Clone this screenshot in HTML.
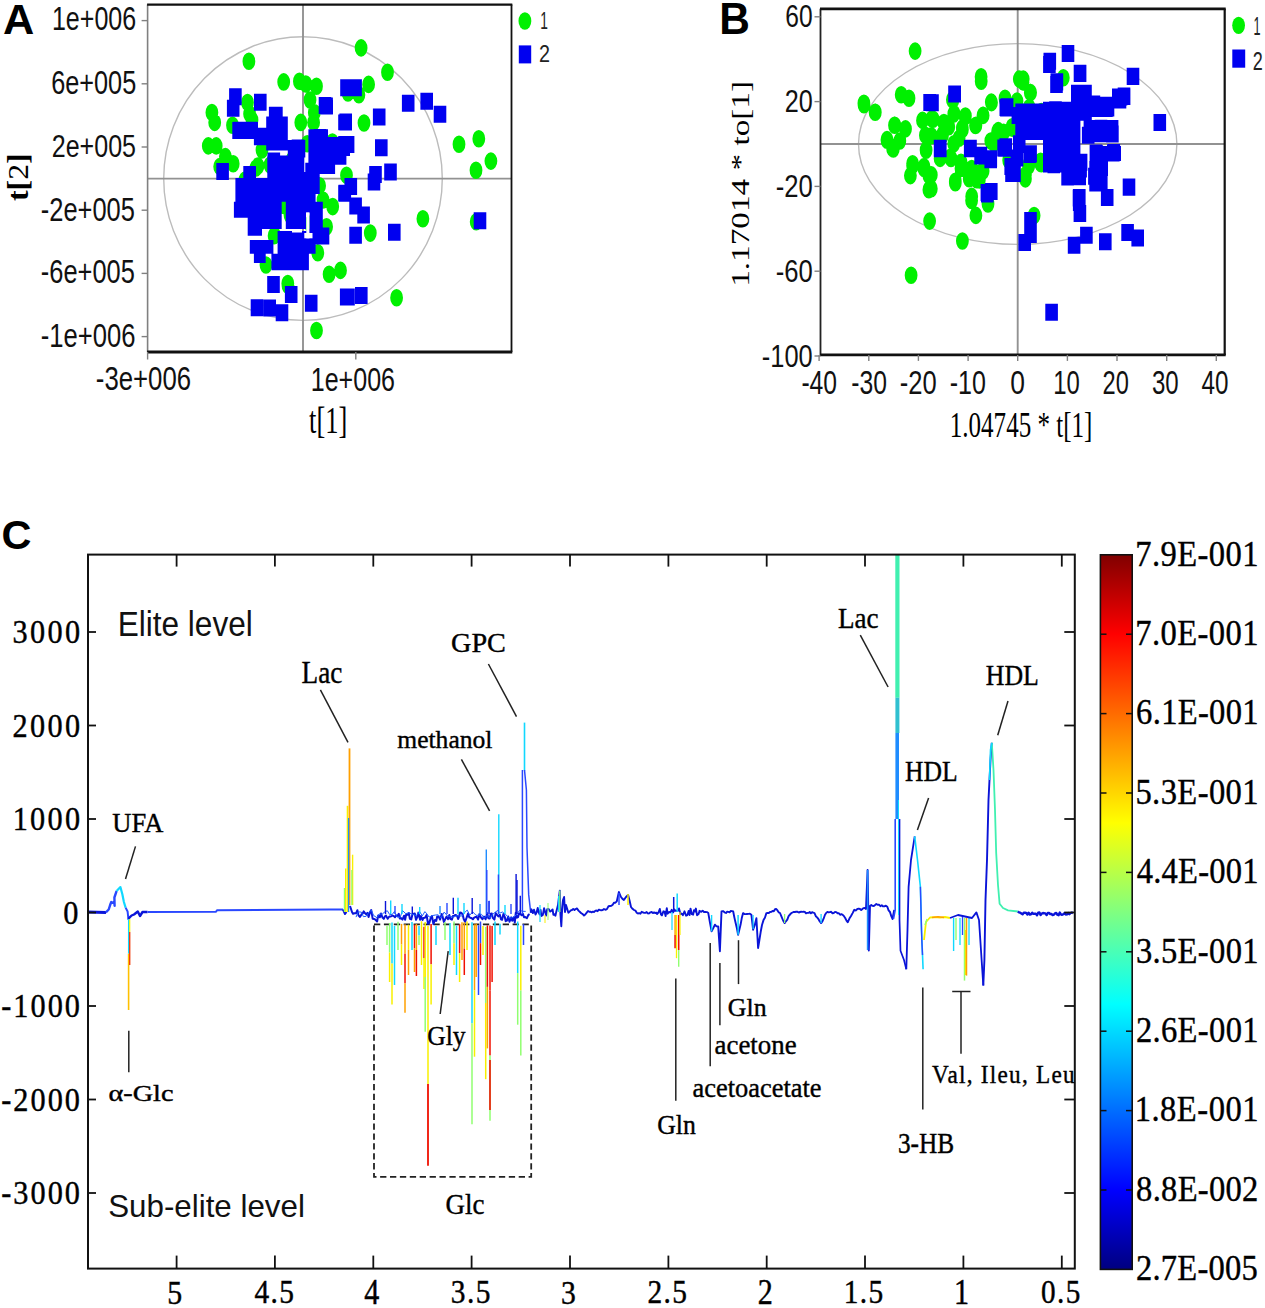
<!DOCTYPE html>
<html><head><meta charset="utf-8"><title>Figure</title>
<style>
html,body{margin:0;padding:0;background:#fff;}
body{width:1265px;height:1308px;overflow:hidden;font-family:"Liberation Sans",sans-serif;}
svg{display:block;}
</style></head>
<body>
<svg width="1265" height="1308" viewBox="0 0 1265 1308">
<rect width="1265" height="1308" fill="#fff"/>
<ellipse cx="303.0" cy="178.6" rx="139.3" ry="141.8" fill="none" stroke="#bcbcbc" stroke-width="1.4"/>
<line x1="147.6" y1="178.6" x2="511.5" y2="178.6" stroke="#929292" stroke-width="1.9"/>
<line x1="303.0" y1="4.6" x2="303.0" y2="352.0" stroke="#929292" stroke-width="1.9"/>
<path fill="#00f000" fill-rule="nonzero" d="M242.5,61.3a6.4,8.8 0 1,0 12.8,0a6.4,8.8 0 1,0 -12.8,0zM277.3,81.9a6.4,8.8 0 1,0 12.8,0a6.4,8.8 0 1,0 -12.8,0zM293.0,81.2a6.4,8.8 0 1,0 12.8,0a6.4,8.8 0 1,0 -12.8,0zM299.4,84.0a6.4,8.8 0 1,0 12.8,0a6.4,8.8 0 1,0 -12.8,0zM310.1,86.2a6.4,8.8 0 1,0 12.8,0a6.4,8.8 0 1,0 -12.8,0zM205.5,112.5a6.4,8.8 0 1,0 12.8,0a6.4,8.8 0 1,0 -12.8,0zM208.3,122.4a6.4,8.8 0 1,0 12.8,0a6.4,8.8 0 1,0 -12.8,0zM241.1,102.5a6.4,8.8 0 1,0 12.8,0a6.4,8.8 0 1,0 -12.8,0zM243.2,113.9a6.4,8.8 0 1,0 12.8,0a6.4,8.8 0 1,0 -12.8,0zM226.1,125.3a6.4,8.8 0 1,0 12.8,0a6.4,8.8 0 1,0 -12.8,0zM294.4,122.4a6.4,8.8 0 1,0 12.8,0a6.4,8.8 0 1,0 -12.8,0zM307.9,112.5a6.4,8.8 0 1,0 12.8,0a6.4,8.8 0 1,0 -12.8,0zM307.2,122.4a6.4,8.8 0 1,0 12.8,0a6.4,8.8 0 1,0 -12.8,0zM201.9,145.9a6.4,8.8 0 1,0 12.8,0a6.4,8.8 0 1,0 -12.8,0zM209.8,145.9a6.4,8.8 0 1,0 12.8,0a6.4,8.8 0 1,0 -12.8,0zM219.0,156.6a6.4,8.8 0 1,0 12.8,0a6.4,8.8 0 1,0 -12.8,0zM226.8,163.7a6.4,8.8 0 1,0 12.8,0a6.4,8.8 0 1,0 -12.8,0zM213.3,166.6a6.4,8.8 0 1,0 12.8,0a6.4,8.8 0 1,0 -12.8,0zM249.6,168.0a6.4,8.8 0 1,0 12.8,0a6.4,8.8 0 1,0 -12.8,0zM300.8,143.8a6.4,8.8 0 1,0 12.8,0a6.4,8.8 0 1,0 -12.8,0zM354.7,47.9a6.4,8.8 0 1,0 12.8,0a6.4,8.8 0 1,0 -12.8,0zM381.1,72.3a6.4,8.8 0 1,0 12.8,0a6.4,8.8 0 1,0 -12.8,0zM362.2,84.4a6.4,8.8 0 1,0 12.8,0a6.4,8.8 0 1,0 -12.8,0zM352.5,94.7a6.4,8.8 0 1,0 12.8,0a6.4,8.8 0 1,0 -12.8,0zM341.6,93.0a6.4,8.8 0 1,0 12.8,0a6.4,8.8 0 1,0 -12.8,0zM357.6,123.0a6.4,8.8 0 1,0 12.8,0a6.4,8.8 0 1,0 -12.8,0zM326.0,142.0a6.4,8.8 0 1,0 12.8,0a6.4,8.8 0 1,0 -12.8,0zM452.6,144.2a6.4,8.8 0 1,0 12.8,0a6.4,8.8 0 1,0 -12.8,0zM472.4,138.7a6.4,8.8 0 1,0 12.8,0a6.4,8.8 0 1,0 -12.8,0zM484.5,161.1a6.4,8.8 0 1,0 12.8,0a6.4,8.8 0 1,0 -12.8,0zM469.6,170.2a6.4,8.8 0 1,0 12.8,0a6.4,8.8 0 1,0 -12.8,0zM340.1,175.2a6.4,8.8 0 1,0 12.8,0a6.4,8.8 0 1,0 -12.8,0zM313.2,185.7a6.4,8.8 0 1,0 12.8,0a6.4,8.8 0 1,0 -12.8,0zM326.3,206.6a6.4,8.8 0 1,0 12.8,0a6.4,8.8 0 1,0 -12.8,0zM320.2,226.8a6.4,8.8 0 1,0 12.8,0a6.4,8.8 0 1,0 -12.8,0zM311.4,252.7a6.4,8.8 0 1,0 12.8,0a6.4,8.8 0 1,0 -12.8,0zM267.7,235.7a6.4,8.8 0 1,0 12.8,0a6.4,8.8 0 1,0 -12.8,0zM281.6,285.6a6.4,8.8 0 1,0 12.8,0a6.4,8.8 0 1,0 -12.8,0zM310.1,330.5a6.4,8.8 0 1,0 12.8,0a6.4,8.8 0 1,0 -12.8,0zM322.7,274.2a6.4,8.8 0 1,0 12.8,0a6.4,8.8 0 1,0 -12.8,0zM334.1,270.4a6.4,8.8 0 1,0 12.8,0a6.4,8.8 0 1,0 -12.8,0zM363.9,233.1a6.4,8.8 0 1,0 12.8,0a6.4,8.8 0 1,0 -12.8,0zM416.5,218.8a6.4,8.8 0 1,0 12.8,0a6.4,8.8 0 1,0 -12.8,0zM469.8,221.8a6.4,8.8 0 1,0 12.8,0a6.4,8.8 0 1,0 -12.8,0zM390.2,297.7a6.4,8.8 0 1,0 12.8,0a6.4,8.8 0 1,0 -12.8,0zM245.6,120.0a6.4,8.8 0 1,0 12.8,0a6.4,8.8 0 1,0 -12.8,0zM255.6,150.0a6.4,8.8 0 1,0 12.8,0a6.4,8.8 0 1,0 -12.8,0zM263.6,165.0a6.4,8.8 0 1,0 12.8,0a6.4,8.8 0 1,0 -12.8,0zM285.6,160.0a6.4,8.8 0 1,0 12.8,0a6.4,8.8 0 1,0 -12.8,0zM315.6,160.0a6.4,8.8 0 1,0 12.8,0a6.4,8.8 0 1,0 -12.8,0zM303.6,100.0a6.4,8.8 0 1,0 12.8,0a6.4,8.8 0 1,0 -12.8,0zM238.6,180.0a6.4,8.8 0 1,0 12.8,0a6.4,8.8 0 1,0 -12.8,0zM274.6,203.0a6.4,8.8 0 1,0 12.8,0a6.4,8.8 0 1,0 -12.8,0zM293.6,240.0a6.4,8.8 0 1,0 12.8,0a6.4,8.8 0 1,0 -12.8,0zM283.6,215.0a6.4,8.8 0 1,0 12.8,0a6.4,8.8 0 1,0 -12.8,0zM316.6,200.0a6.4,8.8 0 1,0 12.8,0a6.4,8.8 0 1,0 -12.8,0zM259.6,265.0a6.4,8.8 0 1,0 12.8,0a6.4,8.8 0 1,0 -12.8,0zM268.1,235.2a6.4,8.8 0 1,0 12.8,0a6.4,8.8 0 1,0 -12.8,0zM277.3,205.4a6.4,8.8 0 1,0 12.8,0a6.4,8.8 0 1,0 -12.8,0zM304.0,224.0a6.4,8.8 0 1,0 12.8,0a6.4,8.8 0 1,0 -12.8,0zM281.4,283.5a6.4,8.8 0 1,0 12.8,0a6.4,8.8 0 1,0 -12.8,0zM251.6,166.0a6.4,8.8 0 1,0 12.8,0a6.4,8.8 0 1,0 -12.8,0z"/>
<path fill="#0000f0" fill-rule="nonzero" d="M229.1,88.3h12.6v17.0h-12.6zM226.9,99.7h12.6v17.0h-12.6zM254.0,93.7h12.6v17.0h-12.6zM233.3,121.8h12.6v17.0h-12.6zM244.7,121.8h12.6v17.0h-12.6zM268.9,106.8h12.6v17.0h-12.6zM274.6,117.5h12.6v17.0h-12.6zM254.7,128.2h12.6v17.0h-12.6zM268.9,132.5h12.6v17.0h-12.6zM318.7,96.9h12.6v17.0h-12.6zM313.7,128.9h12.6v17.0h-12.6zM291.7,139.5h12.6v17.0h-12.6zM308.7,145.2h12.6v17.0h-12.6zM216.3,163.0h12.6v17.0h-12.6zM243.3,165.9h12.6v17.0h-12.6zM267.5,152.4h12.6v17.0h-12.6zM340.2,79.2h12.6v17.0h-12.6zM349.3,79.2h12.6v17.0h-12.6zM320.3,97.5h12.6v17.0h-12.6zM339.4,113.5h12.6v17.0h-12.6zM372.9,108.6h12.6v17.0h-12.6zM401.9,94.8h12.6v17.0h-12.6zM420.4,92.8h12.6v17.0h-12.6zM433.7,105.8h12.6v17.0h-12.6zM375.0,139.3h12.6v17.0h-12.6zM341.8,136.0h12.6v17.0h-12.6zM313.7,130.2h12.6v17.0h-12.6zM384.2,163.4h12.6v17.0h-12.6zM369.2,165.9h12.6v17.0h-12.6zM267.2,275.9h12.6v17.0h-12.6zM284.9,286.0h12.6v17.0h-12.6zM304.9,294.8h12.6v17.0h-12.6zM339.9,288.5h12.6v17.0h-12.6zM250.7,299.3h12.6v17.0h-12.6zM263.4,299.5h12.6v17.0h-12.6zM275.7,304.3h12.6v17.0h-12.6zM473.7,212.3h12.6v17.0h-12.6zM388.0,223.8h12.6v17.0h-12.6zM349.3,226.8h12.6v17.0h-12.6zM357.3,206.5h12.6v17.0h-12.6zM349.3,197.5h12.6v17.0h-12.6zM338.5,184.8h12.6v17.0h-12.6zM344.5,178.0h12.6v17.0h-12.6zM367.7,173.5h12.6v17.0h-12.6zM342.2,288.4h12.6v17.0h-12.6zM355.0,286.9h12.6v17.0h-12.6zM316.7,227.5h12.6v17.0h-12.6zM232.3,122.1H258.0V139.0H232.3zM253.9,127.7H287.8V145.2H253.9zM266.2,116.4H287.8V150.4H266.2zM269.3,106.7H282.7V118.0H269.3zM267.3,155.5H304.3V200.0H267.3zM287.8,140.0H305.3V157.6H287.8zM308.4,129.3H328.0V162.7H308.4zM328.0,137.0H346.4V164.7H328.0zM305.3,162.7H335.1V174.0H305.3zM235.4,178.0H319.7V194.0H235.4zM243.6,167.3H256.0V178.0H243.6zM304.3,172.0H319.7V182.0H304.3zM235.4,190.0H315.6V201.8H235.4zM233.9,201.8H281.7V217.7H233.9zM247.7,217.7H262.0V235.7H247.7zM262.0,217.7H281.7V229.0H262.0zM285.8,201.8H322.8V212.6H285.8zM285.8,212.6H306.0V229.0H285.8zM309.4,212.6H322.8V229.0H309.4zM308.4,229.0H326.9V244.5H308.4zM277.6,231.0H315.6V253.7H277.6zM249.8,240.0H273.4V253.7H249.8zM253.9,253.7H265.7V263.0H253.9zM271.4,253.7H308.9V270.2H271.4zM338.2,114.4H350.0V130.3H338.2zM338.2,136.0H350.0V156.0H338.2zM320.2,100.0H333.0V113.9H320.2zM338.2,185.3H350.0V201.3H338.2z"/>
<rect x="292" y="229" width="10.0" height="3.5" fill="#fff"/>
<rect x="304.3" y="233" width="8.2" height="5.3" fill="#fff"/>
<rect x="306.3" y="212.6" width="3.1" height="25.7" fill="#fff"/>
<line x1="147.6" y1="4.6" x2="147.6" y2="352.0" stroke="#808080" stroke-width="1.6"/>
<line x1="147.1" y1="4.6" x2="512.3" y2="4.6" stroke="#111" stroke-width="2.4"/>
<line x1="511.5" y1="4.6" x2="511.5" y2="352.0" stroke="#111" stroke-width="1.8"/>
<line x1="147.1" y1="352.0" x2="512.3" y2="352.0" stroke="#111" stroke-width="2.8"/>
<line x1="141.6" y1="20.6" x2="147.6" y2="20.6" stroke="#808080" stroke-width="1.4"/>
<text x="51.92" y="30.47" font-family='"Liberation Sans", sans-serif' font-size="33.38" font-weight="normal" fill="#111" textLength="84.28" lengthAdjust="spacingAndGlyphs">1e+006</text>
<line x1="141.6" y1="83.8" x2="147.6" y2="83.8" stroke="#808080" stroke-width="1.4"/>
<text x="51.14" y="93.78" font-family='"Liberation Sans", sans-serif' font-size="32.39" font-weight="normal" fill="#111" textLength="85.07" lengthAdjust="spacingAndGlyphs">6e+005</text>
<line x1="141.6" y1="147.0" x2="147.6" y2="147.0" stroke="#808080" stroke-width="1.4"/>
<text x="51.75" y="157.38" font-family='"Liberation Sans", sans-serif' font-size="32.25" font-weight="normal" fill="#111" textLength="84.25" lengthAdjust="spacingAndGlyphs">2e+005</text>
<line x1="141.6" y1="210.2" x2="147.6" y2="210.2" stroke="#808080" stroke-width="1.4"/>
<text x="40.75" y="221.37" font-family='"Liberation Sans", sans-serif' font-size="33.38" font-weight="normal" fill="#111" textLength="94.14" lengthAdjust="spacingAndGlyphs">-2e+005</text>
<line x1="141.6" y1="273.4" x2="147.6" y2="273.4" stroke="#808080" stroke-width="1.4"/>
<text x="40.86" y="282.67" font-family='"Liberation Sans", sans-serif' font-size="32.68" font-weight="normal" fill="#111" textLength="94.04" lengthAdjust="spacingAndGlyphs">-6e+005</text>
<line x1="141.6" y1="336.6" x2="147.6" y2="336.6" stroke="#808080" stroke-width="1.4"/>
<text x="40.75" y="346.96" font-family='"Liberation Sans", sans-serif' font-size="33.52" font-weight="normal" fill="#111" textLength="94.75" lengthAdjust="spacingAndGlyphs">-1e+006</text>
<line x1="147.6" y1="352.0" x2="147.6" y2="359.5" stroke="#808080" stroke-width="1.4"/>
<line x1="355.8" y1="352.0" x2="355.8" y2="359.5" stroke="#808080" stroke-width="1.4"/>
<text x="95.84" y="390.48" font-family='"Liberation Sans", sans-serif' font-size="32.39" font-weight="normal" fill="#111" textLength="95.26" lengthAdjust="spacingAndGlyphs">-3e+006</text>
<text x="310.72" y="390.66" font-family='"Liberation Sans", sans-serif' font-size="33.80" font-weight="normal" fill="#111" textLength="84.28" lengthAdjust="spacingAndGlyphs">1e+006</text>
<text x="309.04" y="432.96" font-family='"Liberation Serif", serif' font-size="37.35" font-weight="normal" fill="#000" textLength="38.22" lengthAdjust="spacingAndGlyphs">t[1]</text>
<g transform="translate(28.38,200.93) rotate(-90)"><text x="0" y="0" font-family='"Liberation Serif", serif' font-size="29.04" font-weight="normal" textLength="47.46" lengthAdjust="spacingAndGlyphs"><tspan font-weight="bold">t[</tspan>2<tspan font-weight="bold">]</tspan></text></g>
<ellipse cx="524.9" cy="21" rx="6.4" ry="8.8" fill="#00f000"/>
<rect x="518.8" y="45.4" width="12.4" height="18" fill="#0000f0"/>
<text x="540.27" y="28.80" font-family='"Liberation Sans", sans-serif' font-size="23.33" font-weight="normal" fill="#222" textLength="7.67" lengthAdjust="spacingAndGlyphs">1</text>
<text x="539.01" y="62.00" font-family='"Liberation Sans", sans-serif' font-size="23.71" font-weight="normal" fill="#222" textLength="11.00" lengthAdjust="spacingAndGlyphs">2</text>
<text x="2.92" y="34.00" font-family='"Liberation Sans", sans-serif' font-size="42.03" font-weight="bold" fill="#000" textLength="31.26" lengthAdjust="spacingAndGlyphs">A</text>
<ellipse cx="1017.7" cy="144.0" rx="159.2" ry="100.4" fill="none" stroke="#bcbcbc" stroke-width="1.4"/>
<line x1="820.5" y1="144.0" x2="1224.7" y2="144.0" stroke="#929292" stroke-width="1.9"/>
<line x1="1017.7" y1="8.8" x2="1017.7" y2="354.9" stroke="#929292" stroke-width="1.9"/>
<path fill="#00f000" fill-rule="nonzero" d="M908.7,51.1a6.4,8.8 0 1,0 12.8,0a6.4,8.8 0 1,0 -12.8,0zM974.7,76.7a6.4,8.8 0 1,0 12.8,0a6.4,8.8 0 1,0 -12.8,0zM857.5,103.3a6.4,8.8 0 1,0 12.8,0a6.4,8.8 0 1,0 -12.8,0zM868.7,112.2a6.4,8.8 0 1,0 12.8,0a6.4,8.8 0 1,0 -12.8,0zM894.8,94.7a6.4,8.8 0 1,0 12.8,0a6.4,8.8 0 1,0 -12.8,0zM902.6,98.3a6.4,8.8 0 1,0 12.8,0a6.4,8.8 0 1,0 -12.8,0zM888.4,125.3a6.4,8.8 0 1,0 12.8,0a6.4,8.8 0 1,0 -12.8,0zM899.1,128.9a6.4,8.8 0 1,0 12.8,0a6.4,8.8 0 1,0 -12.8,0zM880.6,139.6a6.4,8.8 0 1,0 12.8,0a6.4,8.8 0 1,0 -12.8,0zM887.0,148.1a6.4,8.8 0 1,0 12.8,0a6.4,8.8 0 1,0 -12.8,0zM893.4,141.0a6.4,8.8 0 1,0 12.8,0a6.4,8.8 0 1,0 -12.8,0zM916.1,120.4a6.4,8.8 0 1,0 12.8,0a6.4,8.8 0 1,0 -12.8,0zM925.4,118.9a6.4,8.8 0 1,0 12.8,0a6.4,8.8 0 1,0 -12.8,0zM919.0,135.3a6.4,8.8 0 1,0 12.8,0a6.4,8.8 0 1,0 -12.8,0zM919.7,150.2a6.4,8.8 0 1,0 12.8,0a6.4,8.8 0 1,0 -12.8,0zM937.5,122.5a6.4,8.8 0 1,0 12.8,0a6.4,8.8 0 1,0 -12.8,0zM936.0,135.3a6.4,8.8 0 1,0 12.8,0a6.4,8.8 0 1,0 -12.8,0zM933.9,155.2a6.4,8.8 0 1,0 12.8,0a6.4,8.8 0 1,0 -12.8,0zM946.0,99.7a6.4,8.8 0 1,0 12.8,0a6.4,8.8 0 1,0 -12.8,0zM947.4,114.0a6.4,8.8 0 1,0 12.8,0a6.4,8.8 0 1,0 -12.8,0zM942.4,126.8a6.4,8.8 0 1,0 12.8,0a6.4,8.8 0 1,0 -12.8,0zM958.8,116.8a6.4,8.8 0 1,0 12.8,0a6.4,8.8 0 1,0 -12.8,0zM956.0,129.6a6.4,8.8 0 1,0 12.8,0a6.4,8.8 0 1,0 -12.8,0zM969.5,125.3a6.4,8.8 0 1,0 12.8,0a6.4,8.8 0 1,0 -12.8,0zM976.6,115.4a6.4,8.8 0 1,0 12.8,0a6.4,8.8 0 1,0 -12.8,0zM985.1,102.6a6.4,8.8 0 1,0 12.8,0a6.4,8.8 0 1,0 -12.8,0zM991.5,131.0a6.4,8.8 0 1,0 12.8,0a6.4,8.8 0 1,0 -12.8,0zM984.4,141.0a6.4,8.8 0 1,0 12.8,0a6.4,8.8 0 1,0 -12.8,0zM998.6,98.3a6.4,8.8 0 1,0 12.8,0a6.4,8.8 0 1,0 -12.8,0zM1008.6,126.8a6.4,8.8 0 1,0 12.8,0a6.4,8.8 0 1,0 -12.8,0zM1012.9,79.1a6.4,8.8 0 1,0 12.8,0a6.4,8.8 0 1,0 -12.8,0zM906.2,163.8a6.4,8.8 0 1,0 12.8,0a6.4,8.8 0 1,0 -12.8,0zM917.6,166.6a6.4,8.8 0 1,0 12.8,0a6.4,8.8 0 1,0 -12.8,0zM947.4,143.8a6.4,8.8 0 1,0 12.8,0a6.4,8.8 0 1,0 -12.8,0zM857.6,104.7a6.4,8.8 0 1,0 12.8,0a6.4,8.8 0 1,0 -12.8,0zM868.9,112.3a6.4,8.8 0 1,0 12.8,0a6.4,8.8 0 1,0 -12.8,0zM888.1,125.3a6.4,8.8 0 1,0 12.8,0a6.4,8.8 0 1,0 -12.8,0zM880.6,140.3a6.4,8.8 0 1,0 12.8,0a6.4,8.8 0 1,0 -12.8,0zM886.9,149.0a6.4,8.8 0 1,0 12.8,0a6.4,8.8 0 1,0 -12.8,0zM886.2,148.5a6.4,8.8 0 1,0 12.8,0a6.4,8.8 0 1,0 -12.8,0zM919.7,150.0a6.4,8.8 0 1,0 12.8,0a6.4,8.8 0 1,0 -12.8,0zM906.2,165.6a6.4,8.8 0 1,0 12.8,0a6.4,8.8 0 1,0 -12.8,0zM904.0,175.6a6.4,8.8 0 1,0 12.8,0a6.4,8.8 0 1,0 -12.8,0zM917.6,168.5a6.4,8.8 0 1,0 12.8,0a6.4,8.8 0 1,0 -12.8,0zM922.5,175.6a6.4,8.8 0 1,0 12.8,0a6.4,8.8 0 1,0 -12.8,0zM922.5,189.8a6.4,8.8 0 1,0 12.8,0a6.4,8.8 0 1,0 -12.8,0zM933.9,157.0a6.4,8.8 0 1,0 12.8,0a6.4,8.8 0 1,0 -12.8,0zM944.6,158.5a6.4,8.8 0 1,0 12.8,0a6.4,8.8 0 1,0 -12.8,0zM948.9,182.7a6.4,8.8 0 1,0 12.8,0a6.4,8.8 0 1,0 -12.8,0zM954.6,168.5a6.4,8.8 0 1,0 12.8,0a6.4,8.8 0 1,0 -12.8,0zM964.5,177.0a6.4,8.8 0 1,0 12.8,0a6.4,8.8 0 1,0 -12.8,0zM975.9,171.3a6.4,8.8 0 1,0 12.8,0a6.4,8.8 0 1,0 -12.8,0zM970.2,179.8a6.4,8.8 0 1,0 12.8,0a6.4,8.8 0 1,0 -12.8,0zM965.2,200.5a6.4,8.8 0 1,0 12.8,0a6.4,8.8 0 1,0 -12.8,0zM969.5,215.4a6.4,8.8 0 1,0 12.8,0a6.4,8.8 0 1,0 -12.8,0zM981.6,204.0a6.4,8.8 0 1,0 12.8,0a6.4,8.8 0 1,0 -12.8,0zM923.2,221.1a6.4,8.8 0 1,0 12.8,0a6.4,8.8 0 1,0 -12.8,0zM956.0,241.0a6.4,8.8 0 1,0 12.8,0a6.4,8.8 0 1,0 -12.8,0zM904.7,275.2a6.4,8.8 0 1,0 12.8,0a6.4,8.8 0 1,0 -12.8,0zM1016.8,79.1a6.4,8.8 0 1,0 12.8,0a6.4,8.8 0 1,0 -12.8,0zM1023.9,92.6a6.4,8.8 0 1,0 12.8,0a6.4,8.8 0 1,0 -12.8,0zM1056.9,77.7a6.4,8.8 0 1,0 12.8,0a6.4,8.8 0 1,0 -12.8,0zM999.3,101.1a6.4,8.8 0 1,0 12.8,0a6.4,8.8 0 1,0 -12.8,0zM1010.6,101.1a6.4,8.8 0 1,0 12.8,0a6.4,8.8 0 1,0 -12.8,0zM1022.8,107.5a6.4,8.8 0 1,0 12.8,0a6.4,8.8 0 1,0 -12.8,0zM1035.6,112.5a6.4,8.8 0 1,0 12.8,0a6.4,8.8 0 1,0 -12.8,0zM997.2,132.4a6.4,8.8 0 1,0 12.8,0a6.4,8.8 0 1,0 -12.8,0zM1005.7,126.8a6.4,8.8 0 1,0 12.8,0a6.4,8.8 0 1,0 -12.8,0zM1034.9,163.8a6.4,8.8 0 1,0 12.8,0a6.4,8.8 0 1,0 -12.8,0zM1022.1,165.2a6.4,8.8 0 1,0 12.8,0a6.4,8.8 0 1,0 -12.8,0zM1027.7,215.5a6.4,8.8 0 1,0 12.8,0a6.4,8.8 0 1,0 -12.8,0zM1019.0,174.9a6.4,8.8 0 1,0 12.8,0a6.4,8.8 0 1,0 -12.8,0zM1035.0,161.8a6.4,8.8 0 1,0 12.8,0a6.4,8.8 0 1,0 -12.8,0zM1002.3,160.3a6.4,8.8 0 1,0 12.8,0a6.4,8.8 0 1,0 -12.8,0zM974.8,81.3a6.4,8.8 0 1,0 12.8,0a6.4,8.8 0 1,0 -12.8,0zM1016.6,81.9a6.4,8.8 0 1,0 12.8,0a6.4,8.8 0 1,0 -12.8,0zM1024.2,92.6a6.4,8.8 0 1,0 12.8,0a6.4,8.8 0 1,0 -12.8,0zM984.9,102.1a6.4,8.8 0 1,0 12.8,0a6.4,8.8 0 1,0 -12.8,0zM946.4,100.2a6.4,8.8 0 1,0 12.8,0a6.4,8.8 0 1,0 -12.8,0zM926.8,119.2a6.4,8.8 0 1,0 12.8,0a6.4,8.8 0 1,0 -12.8,0zM947.6,113.5a6.4,8.8 0 1,0 12.8,0a6.4,8.8 0 1,0 -12.8,0zM959.0,116.0a6.4,8.8 0 1,0 12.8,0a6.4,8.8 0 1,0 -12.8,0zM976.7,115.4a6.4,8.8 0 1,0 12.8,0a6.4,8.8 0 1,0 -12.8,0zM937.5,123.0a6.4,8.8 0 1,0 12.8,0a6.4,8.8 0 1,0 -12.8,0zM955.9,128.1a6.4,8.8 0 1,0 12.8,0a6.4,8.8 0 1,0 -12.8,0zM969.1,125.5a6.4,8.8 0 1,0 12.8,0a6.4,8.8 0 1,0 -12.8,0zM991.9,130.6a6.4,8.8 0 1,0 12.8,0a6.4,8.8 0 1,0 -12.8,0zM1005.8,128.1a6.4,8.8 0 1,0 12.8,0a6.4,8.8 0 1,0 -12.8,0zM924.9,135.7a6.4,8.8 0 1,0 12.8,0a6.4,8.8 0 1,0 -12.8,0zM936.2,134.4a6.4,8.8 0 1,0 12.8,0a6.4,8.8 0 1,0 -12.8,0zM952.7,138.2a6.4,8.8 0 1,0 12.8,0a6.4,8.8 0 1,0 -12.8,0zM986.8,142.0a6.4,8.8 0 1,0 12.8,0a6.4,8.8 0 1,0 -12.8,0zM933.7,158.4a6.4,8.8 0 1,0 12.8,0a6.4,8.8 0 1,0 -12.8,0zM943.8,157.2a6.4,8.8 0 1,0 12.8,0a6.4,8.8 0 1,0 -12.8,0zM954.6,162.2a6.4,8.8 0 1,0 12.8,0a6.4,8.8 0 1,0 -12.8,0zM965.3,168.5a6.4,8.8 0 1,0 12.8,0a6.4,8.8 0 1,0 -12.8,0zM976.7,171.1a6.4,8.8 0 1,0 12.8,0a6.4,8.8 0 1,0 -12.8,0zM948.9,181.2a6.4,8.8 0 1,0 12.8,0a6.4,8.8 0 1,0 -12.8,0zM962.8,178.7a6.4,8.8 0 1,0 12.8,0a6.4,8.8 0 1,0 -12.8,0zM972.9,179.9a6.4,8.8 0 1,0 12.8,0a6.4,8.8 0 1,0 -12.8,0zM1018.5,176.1a6.4,8.8 0 1,0 12.8,0a6.4,8.8 0 1,0 -12.8,0zM1022.3,166.0a6.4,8.8 0 1,0 12.8,0a6.4,8.8 0 1,0 -12.8,0zM1034.3,163.5a6.4,8.8 0 1,0 12.8,0a6.4,8.8 0 1,0 -12.8,0zM1034.9,111.6a6.4,8.8 0 1,0 12.8,0a6.4,8.8 0 1,0 -12.8,0zM924.9,174.9a6.4,8.8 0 1,0 12.8,0a6.4,8.8 0 1,0 -12.8,0zM924.9,188.8a6.4,8.8 0 1,0 12.8,0a6.4,8.8 0 1,0 -12.8,0zM965.3,196.4a6.4,8.8 0 1,0 12.8,0a6.4,8.8 0 1,0 -12.8,0zM991.2,132.1a6.4,8.8 0 1,0 12.8,0a6.4,8.8 0 1,0 -12.8,0zM987.4,143.5a6.4,8.8 0 1,0 12.8,0a6.4,8.8 0 1,0 -12.8,0zM1003.8,160.0a6.4,8.8 0 1,0 12.8,0a6.4,8.8 0 1,0 -12.8,0zM1034.2,161.2a6.4,8.8 0 1,0 12.8,0a6.4,8.8 0 1,0 -12.8,0zM1019.0,178.9a6.4,8.8 0 1,0 12.8,0a6.4,8.8 0 1,0 -12.8,0z"/>
<path fill="#0000f0" fill-rule="nonzero" d="M923.3,94.1h12.6v17.0h-12.6zM948.2,85.5h12.6v17.0h-12.6zM999.5,99.0h12.6v17.0h-12.6zM934.0,140.3h12.6v17.0h-12.6zM963.9,140.3h12.6v17.0h-12.6zM974.6,146.7h12.6v17.0h-12.6zM984.5,150.3h12.6v17.0h-12.6zM997.3,139.6h12.6v17.0h-12.6zM1011.6,106.9h12.6v17.0h-12.6zM1061.7,45.0h12.6v17.0h-12.6zM1043.5,52.8h12.6v17.0h-12.6zM1073.8,64.9h12.6v17.0h-12.6zM1050.6,73.4h12.6v17.0h-12.6zM1126.7,67.7h12.6v17.0h-12.6zM1074.8,85.5h12.6v17.0h-12.6zM1114.7,88.4h12.6v17.0h-12.6zM1099.0,99.8h12.6v17.0h-12.6zM1087.6,95.5h12.6v17.0h-12.6zM1049.2,101.2h12.6v17.0h-12.6zM1153.5,114.0h12.6v17.0h-12.6zM1094.7,119.7h12.6v17.0h-12.6zM1106.1,125.4h12.6v17.0h-12.6zM1081.9,126.8h12.6v17.0h-12.6zM1090.5,145.3h12.6v17.0h-12.6zM1107.5,143.9h12.6v17.0h-12.6zM1094.7,156.7h12.6v17.0h-12.6zM1074.8,153.8h12.6v17.0h-12.6zM1000.8,98.3h12.6v17.0h-12.6zM1017.9,104.0h12.6v17.0h-12.6zM999.4,138.2h12.6v17.0h-12.6zM1012.9,135.3h12.6v17.0h-12.6zM1024.3,145.3h12.6v17.0h-12.6zM1010.7,149.5h12.6v17.0h-12.6zM1004.4,158.1h12.6v17.0h-12.6zM1008.2,164.9h12.6v17.0h-12.6zM1024.2,212.1h12.6v17.0h-12.6zM1024.2,225.9h12.6v17.0h-12.6zM1018.4,233.9h12.6v17.0h-12.6zM1072.9,194.0h12.6v17.0h-12.6zM1073.6,204.9h12.6v17.0h-12.6zM1080.1,226.7h12.6v17.0h-12.6zM1067.8,236.8h12.6v17.0h-12.6zM1099.0,233.2h12.6v17.0h-12.6zM1121.3,224.0h12.6v17.0h-12.6zM1131.4,229.6h12.6v17.0h-12.6zM1122.7,178.7h12.6v17.0h-12.6zM1100.9,188.9h12.6v17.0h-12.6zM1093.9,173.6h12.6v17.0h-12.6zM1088.1,167.8h12.6v17.0h-12.6zM1061.3,168.5h12.6v17.0h-12.6zM1074.3,160.5h12.6v17.0h-12.6zM1047.5,156.2h12.6v17.0h-12.6zM1095.4,159.1h12.6v17.0h-12.6zM1107.0,144.6h12.6v17.0h-12.6zM1089.6,144.6h12.6v17.0h-12.6zM1045.3,303.7h12.6v17.0h-12.6zM981.0,185.5h12.6v17.0h-12.6zM1005.2,164.9h12.6v17.0h-12.6zM926.2,94.3h12.6v17.0h-12.6zM948.4,85.4h12.6v17.0h-12.6zM1000.2,98.7h12.6v17.0h-12.6zM1017.9,105.0h12.6v17.0h-12.6zM933.8,139.8h12.6v17.0h-12.6zM964.2,139.8h12.6v17.0h-12.6zM974.3,147.4h12.6v17.0h-12.6zM984.4,151.2h12.6v17.0h-12.6zM998.3,139.8h12.6v17.0h-12.6zM1012.9,136.0h12.6v17.0h-12.6zM1023.6,146.1h12.6v17.0h-12.6zM1007.8,165.1h12.6v17.0h-12.6zM980.6,184.1h12.6v17.0h-12.6zM1050.2,75.9h12.6v17.0h-12.6zM1073.0,189.1h12.6v17.0h-12.6zM1000.1,99.5h12.6v17.0h-12.6zM1126.7,67.9h12.6v17.0h-12.6zM1073.7,64.8h12.6v17.0h-12.6zM1050.5,73.3h12.6v17.0h-12.6zM1043.1,55.9h12.6v17.0h-12.6zM1122.7,178.5h12.6v17.0h-12.6zM1072.7,189.5h12.6v17.0h-12.6zM985.0,183.0h12.6v17.0h-12.6zM1113.7,91.5h12.6v17.0h-12.6zM1117.7,87.5h12.6v17.0h-12.6zM1101.7,99.5h12.6v17.0h-12.6zM1043.0,101.7H1080.4V172.6H1043.0zM1015.3,103.6H1043.0V140.0H1015.3zM1071.0,84.7H1091.8V120.7H1071.0zM1091.8,96.7H1112.7V117.0H1091.8zM1112.0,88.5H1130.4V105.0H1112.0zM1083.6,120.0H1118.4V142.2H1083.6zM1090.0,146.0H1121.0V161.0H1090.0zM1089.3,161.0H1107.6V191.5H1089.3zM1101.3,189.0H1113.3V200.0H1101.3zM1061.5,157.4H1086.0V185.2H1061.5z"/>
<line x1="820.5" y1="8.8" x2="820.5" y2="354.9" stroke="#222" stroke-width="1.8"/>
<line x1="820.0" y1="8.8" x2="1225.7" y2="8.8" stroke="#111" stroke-width="2.8"/>
<line x1="1224.7" y1="8.8" x2="1224.7" y2="354.9" stroke="#111" stroke-width="2.2"/>
<line x1="820.0" y1="354.9" x2="1225.7" y2="354.9" stroke="#111" stroke-width="2.8"/>
<line x1="814.5" y1="16.8" x2="820.5" y2="16.8" stroke="#808080" stroke-width="1.4"/>
<text x="785.37" y="27.39" font-family='"Liberation Sans", sans-serif' font-size="31.13" font-weight="normal" fill="#111" textLength="27.35" lengthAdjust="spacingAndGlyphs">60</text>
<line x1="814.5" y1="101.6" x2="820.5" y2="101.6" stroke="#808080" stroke-width="1.4"/>
<text x="784.74" y="112.19" font-family='"Liberation Sans", sans-serif' font-size="31.13" font-weight="normal" fill="#111" textLength="28.00" lengthAdjust="spacingAndGlyphs">20</text>
<line x1="814.5" y1="186.4" x2="820.5" y2="186.4" stroke="#808080" stroke-width="1.4"/>
<text x="775.65" y="196.99" font-family='"Liberation Sans", sans-serif' font-size="31.13" font-weight="normal" fill="#111" textLength="37.06" lengthAdjust="spacingAndGlyphs">-20</text>
<line x1="814.5" y1="271.2" x2="820.5" y2="271.2" stroke="#808080" stroke-width="1.4"/>
<text x="775.65" y="281.79" font-family='"Liberation Sans", sans-serif' font-size="31.13" font-weight="normal" fill="#111" textLength="37.06" lengthAdjust="spacingAndGlyphs">-60</text>
<line x1="814.5" y1="356.0" x2="820.5" y2="356.0" stroke="#808080" stroke-width="1.4"/>
<text x="761.86" y="366.59" font-family='"Liberation Sans", sans-serif' font-size="31.13" font-weight="normal" fill="#111" textLength="50.87" lengthAdjust="spacingAndGlyphs">-100</text>
<line x1="819.1" y1="354.9" x2="819.1" y2="360.9" stroke="#808080" stroke-width="1.4"/>
<text x="801.39" y="393.87" font-family='"Liberation Sans", sans-serif' font-size="32.68" font-weight="normal" fill="#111" textLength="35.68" lengthAdjust="spacingAndGlyphs">-40</text>
<line x1="868.8" y1="354.9" x2="868.8" y2="360.9" stroke="#808080" stroke-width="1.4"/>
<text x="851.19" y="393.87" font-family='"Liberation Sans", sans-serif' font-size="32.68" font-weight="normal" fill="#111" textLength="35.68" lengthAdjust="spacingAndGlyphs">-30</text>
<line x1="918.4" y1="354.9" x2="918.4" y2="360.9" stroke="#808080" stroke-width="1.4"/>
<text x="899.85" y="393.87" font-family='"Liberation Sans", sans-serif' font-size="32.68" font-weight="normal" fill="#111" textLength="36.96" lengthAdjust="spacingAndGlyphs">-20</text>
<line x1="968.1" y1="354.9" x2="968.1" y2="360.9" stroke="#808080" stroke-width="1.4"/>
<text x="949.67" y="393.87" font-family='"Liberation Sans", sans-serif' font-size="32.68" font-weight="normal" fill="#111" textLength="36.21" lengthAdjust="spacingAndGlyphs">-10</text>
<line x1="1017.7" y1="354.9" x2="1017.7" y2="360.9" stroke="#808080" stroke-width="1.4"/>
<text x="1010.24" y="393.87" font-family='"Liberation Sans", sans-serif' font-size="32.68" font-weight="normal" fill="#111" textLength="14.72" lengthAdjust="spacingAndGlyphs">0</text>
<line x1="1067.4" y1="354.9" x2="1067.4" y2="360.9" stroke="#808080" stroke-width="1.4"/>
<text x="1053.21" y="393.87" font-family='"Liberation Sans", sans-serif' font-size="32.68" font-weight="normal" fill="#111" textLength="26.59" lengthAdjust="spacingAndGlyphs">10</text>
<line x1="1117.0" y1="354.9" x2="1117.0" y2="360.9" stroke="#808080" stroke-width="1.4"/>
<text x="1102.62" y="393.87" font-family='"Liberation Sans", sans-serif' font-size="32.68" font-weight="normal" fill="#111" textLength="26.26" lengthAdjust="spacingAndGlyphs">20</text>
<line x1="1166.7" y1="354.9" x2="1166.7" y2="360.9" stroke="#808080" stroke-width="1.4"/>
<text x="1151.94" y="393.87" font-family='"Liberation Sans", sans-serif' font-size="32.68" font-weight="normal" fill="#111" textLength="26.76" lengthAdjust="spacingAndGlyphs">30</text>
<line x1="1216.3" y1="354.9" x2="1216.3" y2="360.9" stroke="#808080" stroke-width="1.4"/>
<text x="1201.51" y="393.87" font-family='"Liberation Sans", sans-serif' font-size="32.68" font-weight="normal" fill="#111" textLength="26.99" lengthAdjust="spacingAndGlyphs">40</text>
<text x="949.77" y="437.20" font-family='"Liberation Serif", serif' font-size="35.54" font-weight="normal" fill="#000" textLength="142.68" lengthAdjust="spacingAndGlyphs">1.04745 * t[1]</text>
<g transform="translate(749.17,286.83) rotate(-90)"><text x="0" y="0" font-family='"Liberation Serif", serif' font-size="26.14" font-weight="normal" textLength="205.88" lengthAdjust="spacingAndGlyphs">1.17014 * to[1]</text></g>
<ellipse cx="1238.6" cy="25.3" rx="6.4" ry="8.6" fill="#00f000"/>
<rect x="1232.3" y="49.5" width="12.9" height="18.2" fill="#0000f0"/>
<text x="1253.55" y="35.00" font-family='"Liberation Sans", sans-serif' font-size="25.07" font-weight="normal" fill="#222" textLength="7.03" lengthAdjust="spacingAndGlyphs">1</text>
<text x="1252.70" y="69.50" font-family='"Liberation Sans", sans-serif' font-size="25.29" font-weight="normal" fill="#222" textLength="10.02" lengthAdjust="spacingAndGlyphs">2</text>
<text x="719.34" y="33.50" font-family='"Liberation Sans", sans-serif' font-size="43.62" font-weight="bold" fill="#000" textLength="30.66" lengthAdjust="spacingAndGlyphs">B</text>
<rect x="374.0" y="924.4" width="157.2" height="252.4" fill="none" stroke="#222" stroke-width="1.8" stroke-dasharray="6.3,3.6"/>
<polyline points="88.0,912.0 106.0,912.4" fill="none" stroke="#0a14d8" stroke-width="3.0" stroke-linejoin="round"/>
<polyline points="105.9,912.4 108.7,909.5 110.2,904.8 111.3,902.0 114.5,903.4 114.6,905.7 114.4,897.5 116.3,891.8 116.6,891.0" fill="none" stroke="#2a48ff" stroke-width="2.4" stroke-linejoin="round"/>
<polyline points="116.6,891.0 120.4,887.1 122.3,894.0 123.9,902.0 125.6,907.6" fill="none" stroke="#10d8ff" stroke-width="2.2" stroke-linejoin="round"/>
<polyline points="125.6,907.6 127.6,911.5 128.5,920.0" fill="none" stroke="#2a48ff" stroke-width="2.0" stroke-linejoin="round"/>
<polyline points="128.5,919.0 129.4,917.6 131.6,915.5 134.0,914.5 137.8,911.5 140.0,916.0 142.5,912.0 147.5,912.0" fill="none" stroke="#0a14d8" stroke-width="2.4" stroke-linejoin="round"/>
<polyline points="147.5,912.0 216.0,911.8 217.0,910.2 330.0,909.6 343.0,909.6" fill="none" stroke="#2a48ff" stroke-width="2.0" stroke-linejoin="round"/>
<line x1="128.6" y1="919.0" x2="128.6" y2="953.7" stroke="#10d8ff" stroke-width="1.3"/>
<line x1="128.6" y1="953.7" x2="128.6" y2="1010.0" stroke="#ffc000" stroke-width="1.6"/>
<line x1="129.7" y1="919.0" x2="129.7" y2="932.0" stroke="#f8f000" stroke-width="1.2"/>
<line x1="129.7" y1="932.0" x2="129.7" y2="965.0" stroke="#f04010" stroke-width="1.4"/>
<polyline points="343.0,909.6 345.0,914.0 346.5,912.0" fill="none" stroke="#0a14d8" stroke-width="2.0" stroke-linejoin="round"/>
<line x1="344.5" y1="888.0" x2="344.5" y2="912.0" stroke="#90ff70" stroke-width="1.4"/>
<line x1="345.7" y1="868.5" x2="345.7" y2="912.0" stroke="#f8f000" stroke-width="1.4"/>
<line x1="347.5" y1="805.8" x2="347.5" y2="912.0" stroke="#f8f000" stroke-width="1.6"/>
<line x1="349.5" y1="748.4" x2="349.5" y2="905.0" stroke="#ffa000" stroke-width="1.8"/>
<line x1="348.6" y1="818.0" x2="348.6" y2="912.0" stroke="#1e8cff" stroke-width="1.3"/>
<line x1="352.6" y1="854.7" x2="352.6" y2="905.0" stroke="#f8f000" stroke-width="1.4"/>
<line x1="351.8" y1="870.0" x2="351.8" y2="905.0" stroke="#90ff70" stroke-width="1.2"/>
<polyline points="350.0,906.0 352.0,912.0 353.0,913.7 354.6,913.3 356.0,913.3 357.4,910.2 358.6,915.6 360.0,916.9 361.7,914.1 362.7,913.5 363.7,911.3 364.6,912.8 366.2,914.3 367.5,912.9 368.6,917.0 370.1,911.9 371.2,910.0 372.7,918.8 374.0,918.9 374.9,919.3 376.1,920.4 377.1,921.5 378.2,915.4 379.9,917.2 381.0,913.5 382.5,917.6 383.8,918.9 384.8,916.6 386.0,915.6 387.7,918.8 389.3,916.5 390.9,916.5 392.6,915.5 394.1,916.4 395.0,917.3 396.1,915.3 397.4,916.1 398.8,913.9 399.8,918.6 400.9,918.0 402.5,919.6 404.1,915.7 405.1,919.7 406.2,914.4 407.8,914.7 408.8,913.0 409.9,918.9 411.3,919.4 412.4,914.5 413.6,913.8 414.8,913.5 416.0,919.9 417.4,916.9 418.4,912.6 420.1,919.7 421.0,916.1 422.5,920.0 423.4,918.0 425.0,917.8 426.6,915.1 428.0,923.5 429.3,922.9 430.6,918.5 432.0,916.1 433.4,924.1 434.9,920.0 436.2,921.0 437.2,916.5 438.6,916.6 440.1,919.6 441.7,913.9 442.8,917.4 443.9,922.0 445.1,919.4 446.5,916.7 448.1,919.1 449.3,914.9 450.3,918.8 451.9,919.6 453.0,915.9 454.1,915.6 455.5,914.9 457.1,915.9 458.1,919.0 459.0,916.8 460.1,912.6 461.2,912.7 462.7,914.7 463.7,919.0 465.1,921.8 466.7,917.4 468.0,913.5 469.3,917.4 470.4,917.7 471.7,918.2 472.9,919.3 473.9,917.9 474.9,917.2 476.5,916.8 478.1,919.6 479.4,914.0 480.9,917.3 482.4,919.2 484.0,916.5 485.6,919.3 487.2,913.1 488.4,918.3 489.7,918.6 490.7,913.8 491.8,913.6 492.8,917.9 494.4,919.6 495.7,913.1 496.8,914.7 498.3,916.4 499.8,914.8 501.0,919.3 502.1,919.8 503.4,914.0 504.8,917.0 505.7,921.2 506.9,920.7 508.2,916.4 509.5,921.7 511.2,917.4 512.2,920.8 513.8,917.3 514.8,922.5 515.8,912.7 516.9,917.7 518.1,917.1 519.0,913.4 520.4,914.0 521.7,915.3 522.9,913.7 524.0,917.3 525.3,917.1 526.9,918.1 528.4,914.9 529.6,914.1" fill="none" stroke="#0a14d8" stroke-width="2.0" stroke-linejoin="round"/>
<polyline points="356.0,917.1 358.2,911.9 361.3,912.1 363.4,916.7 366.1,916.3 368.3,913.2 371.3,910.1 373.6,915.5 377.0,917.7 379.1,914.0 382.3,914.0 385.3,911.5 387.4,910.8 389.5,914.4 392.2,914.5 394.4,911.5 396.8,916.7 400.2,917.4 402.4,910.5 405.8,913.7 409.0,912.6 411.7,914.1 414.3,914.8 416.3,915.6 419.6,911.5 422.3,915.9 424.9,911.6 427.1,914.1 429.1,917.1 432.3,915.6 435.6,915.0 438.2,914.8 441.0,917.9 444.2,912.1 447.6,916.0 450.7,916.5 453.4,917.2 456.7,915.6 459.8,916.1 462.4,915.8 464.5,912.7 467.2,910.1 469.8,915.1 472.7,911.9 476.1,915.3 478.6,915.3 481.5,914.3 484.1,918.0 487.0,915.6 490.2,917.8 492.2,914.9 495.3,912.1 497.9,910.4 500.2,913.0 502.4,912.0 505.7,914.4 508.5,917.7 511.3,918.0 514.3,916.5 516.4,914.8 519.5,910.4 522.9,911.3 525.7,911.4" fill="none" stroke="#1a5cff" stroke-width="1.0" stroke-linejoin="round"/>
<line x1="385.5" y1="901.0" x2="385.5" y2="914.0" stroke="#0a14d8" stroke-width="1.4"/>
<line x1="390.7" y1="900.6" x2="390.7" y2="914.0" stroke="#10d8ff" stroke-width="1.4"/>
<line x1="412.3" y1="906.5" x2="412.3" y2="914.0" stroke="#0a14d8" stroke-width="1.4"/>
<line x1="419.7" y1="907.0" x2="419.7" y2="914.0" stroke="#10d8ff" stroke-width="1.4"/>
<line x1="453.3" y1="897.8" x2="453.3" y2="914.0" stroke="#0a14d8" stroke-width="1.4"/>
<line x1="458.0" y1="897.8" x2="458.0" y2="914.0" stroke="#10d8ff" stroke-width="1.4"/>
<line x1="472.2" y1="898.0" x2="472.2" y2="914.0" stroke="#0a14d8" stroke-width="1.4"/>
<line x1="489.0" y1="901.0" x2="489.0" y2="914.0" stroke="#0a14d8" stroke-width="1.4"/>
<line x1="489.2" y1="900.8" x2="489.2" y2="914.0" stroke="#2a48ff" stroke-width="1.4"/>
<line x1="486.3" y1="849.5" x2="486.3" y2="914.0" stroke="#1e8cff" stroke-width="1.4"/>
<line x1="486.8" y1="870.0" x2="486.8" y2="914.0" stroke="#2a48ff" stroke-width="1.4"/>
<line x1="498.8" y1="814.2" x2="498.8" y2="914.0" stroke="#10d8ff" stroke-width="1.4"/>
<line x1="498.4" y1="874.5" x2="498.4" y2="914.0" stroke="#2a48ff" stroke-width="1.4"/>
<line x1="516.1" y1="874.0" x2="516.1" y2="914.0" stroke="#0a14d8" stroke-width="1.4"/>
<line x1="517.0" y1="880.0" x2="517.0" y2="914.0" stroke="#0a14d8" stroke-width="1.4"/>
<line x1="520.3" y1="895.7" x2="520.3" y2="914.0" stroke="#0a14d8" stroke-width="1.4"/>
<line x1="505.0" y1="905.0" x2="505.0" y2="914.0" stroke="#10d8ff" stroke-width="1.4"/>
<line x1="511.0" y1="904.0" x2="511.0" y2="914.0" stroke="#2a48ff" stroke-width="1.4"/>
<line x1="440.0" y1="906.0" x2="440.0" y2="914.0" stroke="#1e8cff" stroke-width="1.4"/>
<line x1="447.0" y1="903.0" x2="447.0" y2="914.0" stroke="#2a48ff" stroke-width="1.4"/>
<line x1="464.0" y1="903.0" x2="464.0" y2="914.0" stroke="#10d8ff" stroke-width="1.4"/>
<line x1="480.0" y1="904.0" x2="480.0" y2="914.0" stroke="#1e8cff" stroke-width="1.4"/>
<line x1="395.0" y1="906.0" x2="395.0" y2="914.0" stroke="#2a48ff" stroke-width="1.4"/>
<line x1="402.0" y1="904.0" x2="402.0" y2="914.0" stroke="#10d8ff" stroke-width="1.4"/>
<line x1="524.5" y1="722.6" x2="524.5" y2="770.5" stroke="#10d8ff" stroke-width="1.6"/>
<line x1="522.4" y1="770.0" x2="522.4" y2="914.0" stroke="#2a48ff" stroke-width="1.5"/>
<polyline points="524.5,770.0 526.4,790.0 527.0,847.8 528.7,894.9 530.7,912.7" fill="none" stroke="#2a48ff" stroke-width="1.5" stroke-linejoin="round"/>
<line x1="387.0" y1="925.8" x2="387.0" y2="945.0" stroke="#90ff70" stroke-width="1.5"/>
<line x1="389.6" y1="923.0" x2="389.6" y2="952.5" stroke="#90ff70" stroke-width="1.5"/>
<line x1="389.6" y1="952.5" x2="389.6" y2="982.0" stroke="#f8f000" stroke-width="1.5"/>
<line x1="392.0" y1="922.4" x2="392.0" y2="963.5" stroke="#10d8ff" stroke-width="1.5"/>
<line x1="392.0" y1="963.5" x2="392.0" y2="1004.5" stroke="#f8f000" stroke-width="1.5"/>
<line x1="394.5" y1="925.9" x2="394.5" y2="985.0" stroke="#10d8ff" stroke-width="1.5"/>
<line x1="398.0" y1="921.7" x2="398.0" y2="950.0" stroke="#90ff70" stroke-width="1.5"/>
<line x1="401.5" y1="923.9" x2="401.5" y2="944.4" stroke="#ffa000" stroke-width="1.5"/>
<line x1="401.5" y1="944.4" x2="401.5" y2="965.0" stroke="#f8f000" stroke-width="1.5"/>
<line x1="405.0" y1="924.3" x2="405.0" y2="953.8" stroke="#ffa000" stroke-width="1.5"/>
<line x1="405.0" y1="953.8" x2="405.0" y2="983.3" stroke="#f01000" stroke-width="1.5"/>
<line x1="405.0" y1="983.3" x2="405.0" y2="1012.8" stroke="#ffa000" stroke-width="1.5"/>
<line x1="408.5" y1="924.7" x2="408.5" y2="949.8" stroke="#f8f000" stroke-width="1.5"/>
<line x1="408.5" y1="949.8" x2="408.5" y2="975.0" stroke="#ffa000" stroke-width="1.5"/>
<line x1="412.0" y1="921.9" x2="412.0" y2="950.0" stroke="#10d8ff" stroke-width="1.5"/>
<line x1="414.5" y1="924.8" x2="414.5" y2="948.4" stroke="#f01000" stroke-width="1.5"/>
<line x1="414.5" y1="948.4" x2="414.5" y2="972.0" stroke="#ffa000" stroke-width="1.5"/>
<line x1="416.4" y1="924.0" x2="416.4" y2="950.0" stroke="#ffa000" stroke-width="1.5"/>
<line x1="416.4" y1="950.0" x2="416.4" y2="976.0" stroke="#f01000" stroke-width="1.5"/>
<line x1="419.0" y1="926.1" x2="419.0" y2="935.6" stroke="#10d8ff" stroke-width="1.5"/>
<line x1="419.0" y1="935.6" x2="419.0" y2="945.0" stroke="#90ff70" stroke-width="1.5"/>
<line x1="421.5" y1="921.2" x2="421.5" y2="965.0" stroke="#f8f000" stroke-width="1.5"/>
<line x1="424.0" y1="926.7" x2="424.0" y2="957.9" stroke="#f01000" stroke-width="1.5"/>
<line x1="424.0" y1="957.9" x2="424.0" y2="989.0" stroke="#f8f000" stroke-width="1.5"/>
<line x1="425.2" y1="922.0" x2="425.2" y2="976.9" stroke="#f8f000" stroke-width="1.5"/>
<line x1="425.2" y1="976.9" x2="425.2" y2="1031.8" stroke="#90ff70" stroke-width="1.5"/>
<line x1="428.0" y1="925.9" x2="428.0" y2="1004.9" stroke="#f8f000" stroke-width="1.5"/>
<line x1="428.0" y1="1004.9" x2="428.0" y2="1084.0" stroke="#f8f000" stroke-width="1.5"/>
<line x1="431.1" y1="924.0" x2="431.1" y2="964.3" stroke="#f01000" stroke-width="1.5"/>
<line x1="431.1" y1="964.3" x2="431.1" y2="1004.5" stroke="#f8f000" stroke-width="1.5"/>
<line x1="436.0" y1="926.0" x2="436.0" y2="945.0" stroke="#10d8ff" stroke-width="1.5"/>
<line x1="445.0" y1="922.1" x2="445.0" y2="940.0" stroke="#90ff70" stroke-width="1.5"/>
<line x1="450.0" y1="922.9" x2="450.0" y2="955.0" stroke="#10d8ff" stroke-width="1.5"/>
<line x1="454.0" y1="921.5" x2="454.0" y2="943.3" stroke="#90ff70" stroke-width="1.5"/>
<line x1="454.0" y1="943.3" x2="454.0" y2="965.0" stroke="#f8f000" stroke-width="1.5"/>
<line x1="456.5" y1="925.7" x2="456.5" y2="975.0" stroke="#10d8ff" stroke-width="1.5"/>
<line x1="459.6" y1="924.2" x2="459.6" y2="953.1" stroke="#f01000" stroke-width="1.5"/>
<line x1="459.6" y1="953.1" x2="459.6" y2="982.0" stroke="#f8f000" stroke-width="1.5"/>
<line x1="462.0" y1="922.2" x2="462.0" y2="960.0" stroke="#ffa000" stroke-width="1.5"/>
<line x1="464.3" y1="922.2" x2="464.3" y2="948.6" stroke="#ffa000" stroke-width="1.5"/>
<line x1="464.3" y1="948.6" x2="464.3" y2="975.0" stroke="#f01000" stroke-width="1.5"/>
<line x1="467.0" y1="921.5" x2="467.0" y2="950.0" stroke="#f8f000" stroke-width="1.5"/>
<line x1="472.0" y1="922.2" x2="472.0" y2="1023.3" stroke="#10d8ff" stroke-width="1.5"/>
<line x1="472.0" y1="1023.3" x2="472.0" y2="1124.3" stroke="#90ff70" stroke-width="1.5"/>
<line x1="474.5" y1="924.4" x2="474.5" y2="990.5" stroke="#ffa000" stroke-width="1.5"/>
<line x1="474.5" y1="990.5" x2="474.5" y2="1056.7" stroke="#f8f000" stroke-width="1.5"/>
<line x1="476.2" y1="923.6" x2="476.2" y2="977.0" stroke="#ffa000" stroke-width="1.5"/>
<line x1="478.5" y1="925.2" x2="478.5" y2="995.0" stroke="#2a48ff" stroke-width="1.5"/>
<line x1="480.5" y1="921.5" x2="480.5" y2="943.2" stroke="#2a48ff" stroke-width="1.5"/>
<line x1="480.5" y1="943.2" x2="480.5" y2="965.0" stroke="#f01000" stroke-width="1.5"/>
<line x1="483.0" y1="926.0" x2="483.0" y2="955.0" stroke="#f8f000" stroke-width="1.5"/>
<line x1="485.7" y1="926.9" x2="485.7" y2="1003.0" stroke="#90ff70" stroke-width="1.5"/>
<line x1="485.7" y1="1003.0" x2="485.7" y2="1079.2" stroke="#f8f000" stroke-width="1.5"/>
<line x1="487.4" y1="925.4" x2="487.4" y2="986.9" stroke="#f01000" stroke-width="1.5"/>
<line x1="487.4" y1="986.9" x2="487.4" y2="1048.4" stroke="#ffa000" stroke-width="1.5"/>
<line x1="490.0" y1="925.5" x2="490.0" y2="990.5" stroke="#f01000" stroke-width="1.5"/>
<line x1="490.0" y1="990.5" x2="490.0" y2="1055.6" stroke="#f01000" stroke-width="1.5"/>
<line x1="490.0" y1="1055.6" x2="490.0" y2="1120.7" stroke="#90ff70" stroke-width="1.5"/>
<line x1="492.1" y1="926.1" x2="492.1" y2="982.0" stroke="#f01000" stroke-width="1.5"/>
<line x1="495.0" y1="921.6" x2="495.0" y2="945.0" stroke="#10d8ff" stroke-width="1.5"/>
<line x1="500.0" y1="923.8" x2="500.0" y2="934.5" stroke="#10d8ff" stroke-width="1.5"/>
<line x1="517.7" y1="921.5" x2="517.7" y2="973.1" stroke="#10d8ff" stroke-width="1.5"/>
<line x1="517.7" y1="973.1" x2="517.7" y2="1024.7" stroke="#90ff70" stroke-width="1.5"/>
<line x1="520.8" y1="925.7" x2="520.8" y2="990.6" stroke="#f8f000" stroke-width="1.5"/>
<line x1="520.8" y1="990.6" x2="520.8" y2="1055.5" stroke="#90ff70" stroke-width="1.5"/>
<line x1="523.5" y1="924.2" x2="523.5" y2="945.0" stroke="#2a48ff" stroke-width="1.5"/>
<line x1="428.0" y1="1084.0" x2="428.0" y2="1165.8" stroke="#f01000" stroke-width="1.8"/>
<line x1="490.0" y1="1060.0" x2="490.0" y2="1110.0" stroke="#f01000" stroke-width="1.6"/>
<polyline points="530.7,912.7 531.5,909.3 532.9,913.1 534.0,909.7 535.5,914.5 536.7,912.0 537.7,908.0 538.8,912.7 539.6,914.4 540.6,909.9 541.4,916.0 542.8,915.0 544.1,908.3 545.2,912.0 546.1,915.6 547.2,909.2 548.6,909.0 550.2,911.6 551.4,910.7 552.6,909.5 553.4,914.9 554.4,914.2 555.4,915.8 556.0,913.0 558.0,905.0 559.8,890.6 560.5,915.0 561.3,926.2 562.0,912.0 563.0,900.0 564.1,897.0 565.0,912.0 566.0,905.0 568.4,912.7 569.6,911.6 570.8,910.4 572.0,910.0 573.2,908.9 574.5,910.0 575.7,909.0 576.9,908.4 578.5,910.6 580.0,912.0 581.3,913.3 582.7,914.1 584.0,915.5 585.3,914.5 586.7,912.7 588.0,911.0 589.2,911.8 590.4,911.7 591.6,912.3 592.8,911.7 594.0,912.0 595.2,910.9 596.4,910.5 597.6,911.2 598.8,909.7 600.0,910.0 601.4,910.3 602.7,910.1 604.0,909.0 605.4,909.8 606.9,909.1 608.5,906.3 610.0,906.0 611.4,905.8 612.7,904.8 614.1,902.6 615.4,902.7 616.8,901.3 618.9,892.0 621.0,897.0 622.5,898.9 623.9,899.9 626.0,897.0 628.1,894.9 629.5,900.2 631.0,907.0 632.5,908.8 634.0,910.0 635.4,910.6 636.7,912.7 637.9,913.5 639.2,913.1 640.4,913.7 641.7,911.8 642.9,912.3 644.2,912.9 645.4,912.9 646.7,912.1 647.9,913.5 649.1,913.4 650.4,912.3 651.6,912.0 652.9,913.0 654.1,912.5 655.4,913.0 656.6,912.7 657.0,914.0 658.4,912.6 659.8,909.0 661.0,914.6 661.9,915.4 663.4,911.3 664.5,911.6 665.6,916.0 666.8,908.2 667.6,913.7 669.2,912.0 670.4,912.4 671.8,909.8 673.1,912.5 674.4,909.4 675.3,910.8 676.9,910.8 678.2,910.5 679.0,908.5 680.5,914.2 681.6,913.5 682.9,915.2 684.5,911.3 686.1,915.7 687.4,915.1 688.6,911.0 689.6,915.0 690.5,908.6 691.9,914.2 693.1,914.7 694.0,910.1 695.0,911.4 695.9,908.6 697.0,915.2 698.6,914.0 699.8,910.0" fill="none" stroke="#0a14d8" stroke-width="1.9" stroke-linejoin="round"/>
<line x1="559.8" y1="890.6" x2="559.8" y2="912.0" stroke="#90ff70" stroke-width="1.3"/>
<line x1="558.5" y1="896.0" x2="558.5" y2="912.0" stroke="#10d8ff" stroke-width="1.2"/>
<line x1="619.0" y1="893.0" x2="619.0" y2="905.0" stroke="#2a48ff" stroke-width="1.5"/>
<line x1="628.0" y1="894.0" x2="628.0" y2="905.0" stroke="#f8f000" stroke-width="1.5"/>
<line x1="540.0" y1="905.0" x2="540.0" y2="922.0" stroke="#10d8ff" stroke-width="1.2"/>
<line x1="545.0" y1="915.0" x2="545.0" y2="923.0" stroke="#f8f000" stroke-width="1.0"/>
<line x1="548.0" y1="903.0" x2="548.0" y2="920.0" stroke="#90ff70" stroke-width="1.0"/>
<line x1="673.7" y1="897.0" x2="673.7" y2="912.0" stroke="#0a14d8" stroke-width="1.5"/>
<line x1="677.2" y1="893.5" x2="677.2" y2="912.0" stroke="#10d8ff" stroke-width="1.5"/>
<line x1="675.1" y1="915.0" x2="675.1" y2="935.0" stroke="#ffa000" stroke-width="1.5"/>
<line x1="675.1" y1="935.0" x2="675.1" y2="948.3" stroke="#f01000" stroke-width="1.6"/>
<line x1="676.5" y1="915.0" x2="676.5" y2="958.2" stroke="#f8f000" stroke-width="1.3"/>
<line x1="678.7" y1="915.0" x2="678.7" y2="950.0" stroke="#f01000" stroke-width="1.6"/>
<line x1="678.7" y1="950.0" x2="678.7" y2="966.8" stroke="#90ff70" stroke-width="1.4"/>
<line x1="680.0" y1="912.0" x2="680.0" y2="935.0" stroke="#f8f000" stroke-width="1.2"/>
<line x1="672.0" y1="912.0" x2="672.0" y2="930.0" stroke="#10d8ff" stroke-width="1.2"/>
<polyline points="700.0,911.3 701.3,911.8 702.7,910.7 704.0,912.0 705.4,911.9 706.9,912.1 708.3,913.1 710.0,922.8 711.6,931.4 713.2,928.4 714.9,924.7 716.5,926.4 718.2,926.4 719.9,951.3 721.5,911.5 723.0,911.1 724.5,912.3 726.0,913.0 727.2,911.7 728.4,911.9 729.6,912.3 730.8,911.0 732.0,911.1 733.2,911.5 734.4,917.6 735.7,923.2 736.9,928.3 738.1,934.7 739.4,929.5 740.6,924.6 741.9,917.4 743.1,913.1 744.4,914.1 745.7,914.1 747.0,914.0 748.5,913.9 749.9,913.8 751.4,914.8 753.1,929.7 754.8,924.9 756.4,918.1 758.1,948.0 759.4,940.0 760.7,931.8 762.0,925.0 763.5,920.1 764.9,917.8 766.4,913.1 767.6,913.0 768.8,913.0 770.0,912.0 771.3,911.9 772.5,910.9 773.8,911.2 775.0,909.3 776.3,909.0 777.5,910.4 778.8,912.4 780.0,913.0 781.5,916.6 783.1,920.5 784.6,923.1 785.9,921.3 787.3,919.6 788.6,916.1 790.0,914.5 791.3,913.1 792.5,912.5 793.8,911.9 795.0,912.0 796.3,911.6 797.5,911.8 798.8,912.5 800.0,912.0 801.2,911.8 802.4,911.9 803.6,911.6 804.8,911.9 806.0,913.4 807.2,912.9 808.5,912.9 809.7,912.0 810.9,913.3 812.1,912.2 813.3,912.7 814.5,913.1 815.8,916.2 817.1,917.4 818.5,919.2 819.8,921.5 821.1,923.1 822.4,921.4 823.6,918.7 824.9,915.0 826.1,913.1 827.4,911.9 828.6,912.4 829.9,912.1 831.2,911.8 832.5,913.3 833.7,913.0 835.0,912.0 836.3,912.1 837.6,913.3 838.9,913.2 840.1,914.8 841.4,914.2 842.7,914.8 844.0,916.2 845.2,918.0 846.5,920.6 847.7,922.3 849.4,918.6 851.0,916.0 852.6,913.1 854.3,909.8 855.7,910.5 857.1,909.2 858.6,908.6 860.0,909.0 861.2,910.1 862.4,909.0 863.6,908.1 864.8,908.0 866.0,909.0 867.6,870.0 868.3,910.0 868.8,950.5 870.0,906.0 871.3,904.9 872.5,905.9 873.8,906.0 875.1,905.0 876.3,904.0 877.6,904.8 879.0,904.7 880.4,906.2 881.8,905.3 883.1,906.4 884.5,906.3 885.9,905.7 887.3,906.7 888.6,910.4 890.0,912.0 891.2,915.9 892.5,919.0 894.2,909.8" fill="none" stroke="#0a14d8" stroke-width="1.9" stroke-linejoin="round"/>
<line x1="711.6" y1="915.0" x2="711.6" y2="931.4" stroke="#10d8ff" stroke-width="1.4"/>
<line x1="738.1" y1="915.0" x2="738.1" y2="934.7" stroke="#10d8ff" stroke-width="1.5"/>
<line x1="784.6" y1="914.0" x2="784.6" y2="923.0" stroke="#90ff70" stroke-width="1.3"/>
<line x1="821.1" y1="914.0" x2="821.1" y2="923.0" stroke="#10d8ff" stroke-width="1.3"/>
<line x1="867.6" y1="870.0" x2="867.6" y2="950.0" stroke="#1e8cff" stroke-width="1.6"/>
<line x1="753.1" y1="915.0" x2="753.1" y2="929.0" stroke="#10d8ff" stroke-width="1.2"/>
<line x1="897.4" y1="554.6" x2="897.4" y2="697.7" stroke="#40f0b0" stroke-width="4.2"/>
<line x1="897.4" y1="697.7" x2="897.4" y2="733.0" stroke="#30c0d0" stroke-width="4.0"/>
<line x1="897.2" y1="733.0" x2="897.2" y2="819.0" stroke="#1e8cff" stroke-width="3.6"/>
<polyline points="895.2,819.0 895.2,910.0 893.5,918.8" fill="none" stroke="#2a48ff" stroke-width="1.6" stroke-linejoin="round"/>
<polyline points="899.5,819.0 899.5,920.0 900.5,950.8 904.0,960.0 906.3,969.3" fill="none" stroke="#0a14d8" stroke-width="1.7" stroke-linejoin="round"/>
<line x1="898.5" y1="800.0" x2="898.5" y2="915.0" stroke="#10d8ff" stroke-width="1.0"/>
<polyline points="906.3,969.3 907.5,930.0 908.6,886.8 911.0,860.0 914.7,836.3" fill="none" stroke="#0a14d8" stroke-width="1.8" stroke-linejoin="round"/>
<polyline points="914.7,836.3 917.5,860.0 920.4,886.8 921.5,930.0 923.1,969.3" fill="none" stroke="#10d8ff" stroke-width="1.6" stroke-linejoin="round"/>
<polyline points="920.4,886.8 921.8,940.0 922.5,955.0" fill="none" stroke="#2a48ff" stroke-width="1.4" stroke-linejoin="round"/>
<polyline points="924.0,940.0 926.0,922.0 930.0,917.5 935.0,917.1 940.0,917.6 945.0,917.0 950.0,918.0" fill="none" stroke="#f8f000" stroke-width="1.8" stroke-linejoin="round"/>
<polyline points="932.0,917.5 938.0,916.8 944.0,917.5" fill="none" stroke="#ffa000" stroke-width="1.6" stroke-linejoin="round"/>
<polyline points="925.0,925.0 927.0,919.0" fill="none" stroke="#90ff70" stroke-width="1.4" stroke-linejoin="round"/>
<line x1="953.6" y1="918.0" x2="953.6" y2="951.0" stroke="#10d8ff" stroke-width="1.4"/>
<line x1="956.0" y1="918.0" x2="956.0" y2="940.0" stroke="#90ff70" stroke-width="1.4"/>
<line x1="960.0" y1="918.0" x2="960.0" y2="945.0" stroke="#10d8ff" stroke-width="1.3"/>
<line x1="964.5" y1="918.0" x2="964.5" y2="980.6" stroke="#90ff70" stroke-width="1.5"/>
<line x1="965.5" y1="930.0" x2="965.5" y2="975.0" stroke="#f8f000" stroke-width="1.3"/>
<line x1="966.5" y1="918.0" x2="966.5" y2="975.6" stroke="#ffa000" stroke-width="1.5"/>
<line x1="962.5" y1="915.0" x2="962.5" y2="935.0" stroke="#2a48ff" stroke-width="1.3"/>
<line x1="969.0" y1="918.0" x2="969.0" y2="945.0" stroke="#10d8ff" stroke-width="1.3"/>
<polyline points="950.0,918.0 958.0,915.0 972.0,918.0 976.4,912.4 979.0,920.0 983.3,985.5" fill="none" stroke="#0a14d8" stroke-width="1.8" stroke-linejoin="round"/>
<polyline points="983.3,985.5 984.4,960.0 985.5,900.0 987.0,860.0 988.5,800.0 990.5,760.0 991.8,742.7" fill="none" stroke="#0a14d8" stroke-width="1.9" stroke-linejoin="round"/>
<polyline points="991.8,742.7 993.5,770.0 995.0,810.0 996.2,853.1 998.0,885.0 999.6,903.7 1003.0,908.0 1008.0,910.4 1017.9,911.5" fill="none" stroke="#40f0b0" stroke-width="1.8" stroke-linejoin="round"/>
<polyline points="989.5,780.0 990.5,750.0 991.8,743.0" fill="none" stroke="#10d8ff" stroke-width="1.6" stroke-linejoin="round"/>
<polyline points="1017.9,911.5 1019.0,912.4 1020.2,912.7 1021.4,913.5 1022.6,914.3 1023.8,912.8 1025.0,912.7 1026.2,913.0 1027.4,914.5 1028.6,912.8 1029.8,914.5 1031.0,914.3 1032.2,912.8 1033.4,913.9 1034.6,913.7 1035.8,913.6 1037.0,915.2 1038.2,912.7 1039.4,912.5 1040.6,915.0 1041.8,913.5 1043.0,913.0 1044.2,913.3 1045.4,913.4 1046.6,915.1 1047.8,913.0 1049.0,913.0 1050.2,914.0 1051.4,913.9 1052.6,915.1 1053.8,914.7 1055.0,913.4 1056.2,913.0 1057.4,914.7 1058.6,915.2 1059.8,912.5 1061.0,914.5 1062.2,914.8 1063.4,914.2 1064.6,913.0 1065.8,914.6 1067.0,914.4 1068.2,912.9 1069.4,914.2 1070.6,913.0 1071.8,912.5 1073.0,913.3" fill="none" stroke="#0a14d8" stroke-width="2.4" stroke-linejoin="round"/>
<rect x="88.0" y="554.6" width="986.8" height="714.0" fill="none" stroke="#111" stroke-width="2"/>
<line x1="88.0" y1="632.0" x2="96.0" y2="632.0" stroke="#111" stroke-width="1.8"/>
<line x1="1064.3" y1="632.0" x2="1074.8" y2="632.0" stroke="#111" stroke-width="1.8"/>
<g transform="translate(12.61,643.26) scale(0.88,1)"><text x="0" y="0" font-family='"Liberation Serif", serif' font-size="34.37" font-weight="normal" fill="#000" stroke="#000" stroke-width="0.45" textLength="76.59" lengthAdjust="spacing">3000</text></g>
<line x1="88.0" y1="725.5" x2="96.0" y2="725.5" stroke="#111" stroke-width="1.8"/>
<line x1="1064.3" y1="725.5" x2="1074.8" y2="725.5" stroke="#111" stroke-width="1.8"/>
<g transform="translate(12.61,736.76) scale(0.88,1)"><text x="0" y="0" font-family='"Liberation Serif", serif' font-size="34.37" font-weight="normal" fill="#000" stroke="#000" stroke-width="0.45" textLength="76.59" lengthAdjust="spacing">2000</text></g>
<line x1="88.0" y1="819.0" x2="96.0" y2="819.0" stroke="#111" stroke-width="1.8"/>
<line x1="1064.3" y1="819.0" x2="1074.8" y2="819.0" stroke="#111" stroke-width="1.8"/>
<g transform="translate(12.75,830.26) scale(0.88,1)"><text x="0" y="0" font-family='"Liberation Serif", serif' font-size="34.37" font-weight="normal" fill="#000" stroke="#000" stroke-width="0.45" textLength="76.43" lengthAdjust="spacing">1000</text></g>
<line x1="88.0" y1="912.5" x2="96.0" y2="912.5" stroke="#111" stroke-width="1.8"/>
<line x1="1064.3" y1="912.5" x2="1074.8" y2="912.5" stroke="#111" stroke-width="1.8"/>
<g transform="translate(63.37,923.76) scale(0.88,1)"><text x="0" y="0" font-family='"Liberation Serif", serif' font-size="34.37" font-weight="normal" fill="#000" stroke="#000" stroke-width="0.45" textLength="18.91" lengthAdjust="spacing">0</text></g>
<line x1="88.0" y1="1006.0" x2="96.0" y2="1006.0" stroke="#111" stroke-width="1.8"/>
<line x1="1064.3" y1="1006.0" x2="1074.8" y2="1006.0" stroke="#111" stroke-width="1.8"/>
<g transform="translate(1.23,1017.26) scale(0.88,1)"><text x="0" y="0" font-family='"Liberation Serif", serif' font-size="34.37" font-weight="normal" fill="#000" stroke="#000" stroke-width="0.45" textLength="89.46" lengthAdjust="spacing">-1000</text></g>
<line x1="88.0" y1="1099.5" x2="96.0" y2="1099.5" stroke="#111" stroke-width="1.8"/>
<line x1="1064.3" y1="1099.5" x2="1074.8" y2="1099.5" stroke="#111" stroke-width="1.8"/>
<g transform="translate(1.23,1110.76) scale(0.88,1)"><text x="0" y="0" font-family='"Liberation Serif", serif' font-size="34.37" font-weight="normal" fill="#000" stroke="#000" stroke-width="0.45" textLength="89.46" lengthAdjust="spacing">-2000</text></g>
<line x1="88.0" y1="1193.0" x2="96.0" y2="1193.0" stroke="#111" stroke-width="1.8"/>
<line x1="1064.3" y1="1193.0" x2="1074.8" y2="1193.0" stroke="#111" stroke-width="1.8"/>
<g transform="translate(1.23,1204.26) scale(0.88,1)"><text x="0" y="0" font-family='"Liberation Serif", serif' font-size="34.37" font-weight="normal" fill="#000" stroke="#000" stroke-width="0.45" textLength="89.46" lengthAdjust="spacing">-3000</text></g>
<line x1="176.6" y1="1268.6" x2="176.6" y2="1255.6" stroke="#111" stroke-width="1.8"/>
<line x1="176.6" y1="554.6" x2="176.6" y2="566.6" stroke="#111" stroke-width="1.8"/>
<g transform="translate(167.35,1303.55) scale(0.86,1)"><text x="0" y="0" font-family='"Liberation Serif", serif' font-size="34.74" font-weight="normal" fill="#000" stroke="#000" stroke-width="0.45" textLength="18.50" lengthAdjust="spacing">5</text></g>
<line x1="274.9" y1="1268.6" x2="274.9" y2="1255.6" stroke="#111" stroke-width="1.8"/>
<line x1="274.9" y1="554.6" x2="274.9" y2="566.6" stroke="#111" stroke-width="1.8"/>
<g transform="translate(254.42,1303.39) scale(0.86,1)"><text x="0" y="0" font-family='"Liberation Serif", serif' font-size="34.22" font-weight="normal" fill="#000" stroke="#000" stroke-width="0.45" textLength="46.09" lengthAdjust="spacing">4.5</text></g>
<line x1="373.3" y1="1268.6" x2="373.3" y2="1255.6" stroke="#111" stroke-width="1.8"/>
<line x1="373.3" y1="554.6" x2="373.3" y2="566.6" stroke="#111" stroke-width="1.8"/>
<g transform="translate(364.13,1303.90) scale(0.86,1)"><text x="0" y="0" font-family='"Liberation Serif", serif' font-size="35.00" font-weight="normal" fill="#000" stroke="#000" stroke-width="0.45" textLength="18.82" lengthAdjust="spacing">4</text></g>
<line x1="471.6" y1="1268.6" x2="471.6" y2="1255.6" stroke="#111" stroke-width="1.8"/>
<line x1="471.6" y1="554.6" x2="471.6" y2="566.6" stroke="#111" stroke-width="1.8"/>
<g transform="translate(450.79,1303.39) scale(0.86,1)"><text x="0" y="0" font-family='"Liberation Serif", serif' font-size="34.22" font-weight="normal" fill="#000" stroke="#000" stroke-width="0.45" textLength="46.02" lengthAdjust="spacing">3.5</text></g>
<line x1="570.0" y1="1268.6" x2="570.0" y2="1255.6" stroke="#111" stroke-width="1.8"/>
<line x1="570.0" y1="554.6" x2="570.0" y2="566.6" stroke="#111" stroke-width="1.8"/>
<g transform="translate(561.01,1303.56) scale(0.86,1)"><text x="0" y="0" font-family='"Liberation Serif", serif' font-size="34.48" font-weight="normal" fill="#000" stroke="#000" stroke-width="0.45" textLength="18.40" lengthAdjust="spacing">3</text></g>
<line x1="668.4" y1="1268.6" x2="668.4" y2="1255.6" stroke="#111" stroke-width="1.8"/>
<line x1="668.4" y1="554.6" x2="668.4" y2="566.6" stroke="#111" stroke-width="1.8"/>
<g transform="translate(647.49,1303.39) scale(0.86,1)"><text x="0" y="0" font-family='"Liberation Serif", serif' font-size="34.22" font-weight="normal" fill="#000" stroke="#000" stroke-width="0.45" textLength="46.02" lengthAdjust="spacing">2.5</text></g>
<line x1="766.7" y1="1268.6" x2="766.7" y2="1255.6" stroke="#111" stroke-width="1.8"/>
<line x1="766.7" y1="554.6" x2="766.7" y2="566.6" stroke="#111" stroke-width="1.8"/>
<g transform="translate(757.84,1303.90) scale(0.86,1)"><text x="0" y="0" font-family='"Liberation Serif", serif' font-size="35.00" font-weight="normal" fill="#000" stroke="#000" stroke-width="0.45" textLength="18.64" lengthAdjust="spacing">2</text></g>
<line x1="865.0" y1="1268.6" x2="865.0" y2="1255.6" stroke="#111" stroke-width="1.8"/>
<line x1="865.0" y1="554.6" x2="865.0" y2="566.6" stroke="#111" stroke-width="1.8"/>
<g transform="translate(843.65,1303.39) scale(0.86,1)"><text x="0" y="0" font-family='"Liberation Serif", serif' font-size="34.22" font-weight="normal" fill="#000" stroke="#000" stroke-width="0.45" textLength="45.91" lengthAdjust="spacing">1.5</text></g>
<line x1="963.4" y1="1268.6" x2="963.4" y2="1255.6" stroke="#111" stroke-width="1.8"/>
<line x1="963.4" y1="554.6" x2="963.4" y2="566.6" stroke="#111" stroke-width="1.8"/>
<g transform="translate(954.06,1303.90) scale(0.86,1)"><text x="0" y="0" font-family='"Liberation Serif", serif' font-size="35.00" font-weight="normal" fill="#000" stroke="#000" stroke-width="0.45" textLength="18.51" lengthAdjust="spacing">1</text></g>
<line x1="1061.8" y1="1268.6" x2="1061.8" y2="1255.6" stroke="#111" stroke-width="1.8"/>
<line x1="1061.8" y1="554.6" x2="1061.8" y2="566.6" stroke="#111" stroke-width="1.8"/>
<g transform="translate(1041.10,1303.39) scale(0.86,1)"><text x="0" y="0" font-family='"Liberation Serif", serif' font-size="33.97" font-weight="normal" fill="#000" stroke="#000" stroke-width="0.45" textLength="45.70" lengthAdjust="spacing">0.5</text></g>
<text x="117.68" y="636.06" font-family='"Liberation Sans", sans-serif' font-size="34.29" font-weight="normal" fill="#111" textLength="135.07" lengthAdjust="spacingAndGlyphs">Elite level</text>
<text x="108.19" y="1217.48" font-family='"Liberation Sans", sans-serif' font-size="31.70" font-weight="normal" fill="#111" textLength="196.69" lengthAdjust="spacingAndGlyphs">Sub-elite level</text>
<text x="301.58" y="683.29" font-family='"Liberation Serif", serif' font-size="31.28" font-weight="normal" fill="#000" stroke="#000" stroke-width="0.4" textLength="40.79" lengthAdjust="spacingAndGlyphs">Lac</text>
<text x="451.07" y="651.53" font-family='"Liberation Serif", serif' font-size="27.31" font-weight="normal" fill="#000" stroke="#000" stroke-width="0.4" textLength="54.79" lengthAdjust="spacingAndGlyphs">GPC</text>
<text x="397.29" y="748.14" font-family='"Liberation Serif", serif' font-size="26.10" font-weight="normal" fill="#000" stroke="#000" stroke-width="0.4" textLength="95.12" lengthAdjust="spacingAndGlyphs">methanol</text>
<text x="112.37" y="831.82" font-family='"Liberation Serif", serif' font-size="28.21" font-weight="normal" fill="#000" stroke="#000" stroke-width="0.4" textLength="51.10" lengthAdjust="spacingAndGlyphs">UFA</text>
<text x="427.28" y="1044.65" font-family='"Liberation Serif", serif' font-size="28.13" font-weight="normal" fill="#000" stroke="#000" stroke-width="0.4" textLength="38.35" lengthAdjust="spacingAndGlyphs">Gly</text>
<text x="445.42" y="1214.21" font-family='"Liberation Serif", serif' font-size="29.08" font-weight="normal" fill="#000" stroke="#000" stroke-width="0.4" textLength="38.96" lengthAdjust="spacingAndGlyphs">Glc</text>
<text x="727.87" y="1016.34" font-family='"Liberation Serif", serif' font-size="25.67" font-weight="normal" fill="#000" stroke="#000" stroke-width="0.4" textLength="38.72" lengthAdjust="spacingAndGlyphs">Gln</text>
<text x="714.56" y="1053.62" font-family='"Liberation Serif", serif' font-size="28.17" font-weight="normal" fill="#000" stroke="#000" stroke-width="0.4" textLength="82.13" lengthAdjust="spacingAndGlyphs">acetone</text>
<text x="692.58" y="1096.72" font-family='"Liberation Serif", serif' font-size="28.35" font-weight="normal" fill="#000" stroke="#000" stroke-width="0.4" textLength="129.02" lengthAdjust="spacingAndGlyphs">acetoacetate</text>
<text x="657.17" y="1133.93" font-family='"Liberation Serif", serif' font-size="27.09" font-weight="normal" fill="#000" stroke="#000" stroke-width="0.4" textLength="38.62" lengthAdjust="spacingAndGlyphs">Gln</text>
<text x="837.99" y="627.91" font-family='"Liberation Serif", serif' font-size="29.02" font-weight="normal" fill="#000" stroke="#000" stroke-width="0.4" textLength="40.58" lengthAdjust="spacingAndGlyphs">Lac</text>
<text x="985.83" y="684.50" font-family='"Liberation Serif", serif' font-size="28.85" font-weight="normal" fill="#000" stroke="#000" stroke-width="0.4" textLength="53.03" lengthAdjust="spacingAndGlyphs">HDL</text>
<text x="904.93" y="780.80" font-family='"Liberation Serif", serif' font-size="28.70" font-weight="normal" fill="#000" stroke="#000" stroke-width="0.4" textLength="52.61" lengthAdjust="spacingAndGlyphs">HDL</text>
<text x="897.96" y="1153.11" font-family='"Liberation Serif", serif' font-size="28.51" font-weight="normal" fill="#000" stroke="#000" stroke-width="0.4" textLength="56.23" lengthAdjust="spacingAndGlyphs">3-HB</text>
<g transform="translate(932.07,1083.31) scale(0.9,1)"><text x="0" y="0" font-family='"Liberation Serif", serif' font-size="25.77" font-weight="normal" fill="#000" stroke="#000" stroke-width="0.4" textLength="158.37" lengthAdjust="spacing">Val, Ileu, Leu</text></g>
<text x="108.47" y="1101.36" font-family='"Liberation Serif", serif' font-size="23.55" font-weight="normal" fill="#000" stroke="#000" stroke-width="0.4" textLength="65.00" lengthAdjust="spacingAndGlyphs">&#945;-Glc</text>
<line x1="320.4" y1="689.9" x2="348.0" y2="742.4" stroke="#222" stroke-width="1.5"/>
<line x1="488.4" y1="664.0" x2="516.5" y2="716.6" stroke="#222" stroke-width="1.5"/>
<line x1="461.4" y1="759.4" x2="489.6" y2="810.8" stroke="#222" stroke-width="1.5"/>
<line x1="135.5" y1="846.4" x2="125.5" y2="879.0" stroke="#222" stroke-width="1.5"/>
<line x1="128.8" y1="1030.7" x2="128.8" y2="1072.2" stroke="#222" stroke-width="1.5"/>
<line x1="448.2" y1="951.1" x2="440.2" y2="1014.0" stroke="#222" stroke-width="1.5"/>
<line x1="675.8" y1="978.4" x2="675.8" y2="1100.8" stroke="#222" stroke-width="1.5"/>
<line x1="710.2" y1="943.0" x2="710.2" y2="1066.3" stroke="#222" stroke-width="1.5"/>
<line x1="719.9" y1="963.1" x2="719.9" y2="1025.2" stroke="#222" stroke-width="1.5"/>
<line x1="738.5" y1="940.2" x2="738.5" y2="984.1" stroke="#222" stroke-width="1.5"/>
<line x1="860.3" y1="635.2" x2="888.1" y2="687.0" stroke="#222" stroke-width="1.5"/>
<line x1="1008.0" y1="701.0" x2="997.7" y2="735.2" stroke="#222" stroke-width="1.5"/>
<line x1="928.6" y1="798.0" x2="917.4" y2="830.0" stroke="#222" stroke-width="1.5"/>
<line x1="922.8" y1="987.4" x2="922.8" y2="1109.4" stroke="#222" stroke-width="1.5"/>
<line x1="952.2" y1="991.5" x2="970.5" y2="991.5" stroke="#222" stroke-width="1.5"/>
<line x1="961.0" y1="991.5" x2="961.0" y2="1053.8" stroke="#222" stroke-width="1.5"/>
<defs><linearGradient id="jet" x1="0" y1="1" x2="0" y2="0"><stop offset="0" stop-color="#000080"/><stop offset="0.111" stop-color="#0000ff"/><stop offset="0.371" stop-color="#00ffff"/><stop offset="0.5" stop-color="#80ff80"/><stop offset="0.625" stop-color="#ffff00"/><stop offset="0.889" stop-color="#ff0000"/><stop offset="1" stop-color="#800000"/></linearGradient></defs>
<rect x="1100.4" y="554.8" width="31.8" height="714.6" fill="url(#jet)" stroke="#111" stroke-width="1.6"/>
<g transform="translate(1135.28,565.66) scale(0.9,1)"><text x="0" y="0" font-family='"Liberation Serif", serif' font-size="36.18" font-weight="normal" fill="#000" stroke="#000" stroke-width="0.4" textLength="136.93" lengthAdjust="spacing">7.9E-001</text></g>
<line x1="1100.4" y1="634.2" x2="1106.5" y2="634.2" stroke="#111" stroke-width="1.5"/>
<line x1="1126.0" y1="634.2" x2="1132.2" y2="634.2" stroke="#111" stroke-width="1.5"/>
<g transform="translate(1135.28,645.06) scale(0.9,1)"><text x="0" y="0" font-family='"Liberation Serif", serif' font-size="36.18" font-weight="normal" fill="#000" stroke="#000" stroke-width="0.4" textLength="136.93" lengthAdjust="spacing">7.0E-001</text></g>
<line x1="1100.4" y1="713.6" x2="1106.5" y2="713.6" stroke="#111" stroke-width="1.5"/>
<line x1="1126.0" y1="713.6" x2="1132.2" y2="713.6" stroke="#111" stroke-width="1.5"/>
<g transform="translate(1136.10,724.46) scale(0.9,1)"><text x="0" y="0" font-family='"Liberation Serif", serif' font-size="36.18" font-weight="normal" fill="#000" stroke="#000" stroke-width="0.4" textLength="136.02" lengthAdjust="spacing">6.1E-001</text></g>
<line x1="1100.4" y1="793.0" x2="1106.5" y2="793.0" stroke="#111" stroke-width="1.5"/>
<line x1="1126.0" y1="793.0" x2="1132.2" y2="793.0" stroke="#111" stroke-width="1.5"/>
<g transform="translate(1135.45,803.86) scale(0.9,1)"><text x="0" y="0" font-family='"Liberation Serif", serif' font-size="36.18" font-weight="normal" fill="#000" stroke="#000" stroke-width="0.4" textLength="136.75" lengthAdjust="spacing">5.3E-001</text></g>
<line x1="1100.4" y1="872.4" x2="1106.5" y2="872.4" stroke="#111" stroke-width="1.5"/>
<line x1="1126.0" y1="872.4" x2="1132.2" y2="872.4" stroke="#111" stroke-width="1.5"/>
<g transform="translate(1136.75,883.26) scale(0.9,1)"><text x="0" y="0" font-family='"Liberation Serif", serif' font-size="36.18" font-weight="normal" fill="#000" stroke="#000" stroke-width="0.4" textLength="135.30" lengthAdjust="spacing">4.4E-001</text></g>
<line x1="1100.4" y1="951.8" x2="1106.5" y2="951.8" stroke="#111" stroke-width="1.5"/>
<line x1="1126.0" y1="951.8" x2="1132.2" y2="951.8" stroke="#111" stroke-width="1.5"/>
<g transform="translate(1135.93,962.66) scale(0.9,1)"><text x="0" y="0" font-family='"Liberation Serif", serif' font-size="36.18" font-weight="normal" fill="#000" stroke="#000" stroke-width="0.4" textLength="136.20" lengthAdjust="spacing">3.5E-001</text></g>
<line x1="1100.4" y1="1031.2" x2="1106.5" y2="1031.2" stroke="#111" stroke-width="1.5"/>
<line x1="1126.0" y1="1031.2" x2="1132.2" y2="1031.2" stroke="#111" stroke-width="1.5"/>
<g transform="translate(1135.93,1042.06) scale(0.9,1)"><text x="0" y="0" font-family='"Liberation Serif", serif' font-size="36.18" font-weight="normal" fill="#000" stroke="#000" stroke-width="0.4" textLength="136.20" lengthAdjust="spacing">2.6E-001</text></g>
<line x1="1100.4" y1="1110.6" x2="1106.5" y2="1110.6" stroke="#111" stroke-width="1.5"/>
<line x1="1126.0" y1="1110.6" x2="1132.2" y2="1110.6" stroke="#111" stroke-width="1.5"/>
<g transform="translate(1134.63,1121.46) scale(0.9,1)"><text x="0" y="0" font-family='"Liberation Serif", serif' font-size="36.18" font-weight="normal" fill="#000" stroke="#000" stroke-width="0.4" textLength="137.65" lengthAdjust="spacing">1.8E-001</text></g>
<line x1="1100.4" y1="1190.0" x2="1106.5" y2="1190.0" stroke="#111" stroke-width="1.5"/>
<line x1="1126.0" y1="1190.0" x2="1132.2" y2="1190.0" stroke="#111" stroke-width="1.5"/>
<g transform="translate(1136.10,1200.86) scale(0.9,1)"><text x="0" y="0" font-family='"Liberation Serif", serif' font-size="36.18" font-weight="normal" fill="#000" stroke="#000" stroke-width="0.4" textLength="135.84" lengthAdjust="spacing">8.8E-002</text></g>
<g transform="translate(1135.93,1280.26) scale(0.9,1)"><text x="0" y="0" font-family='"Liberation Serif", serif' font-size="36.18" font-weight="normal" fill="#000" stroke="#000" stroke-width="0.4" textLength="135.48" lengthAdjust="spacing">2.7E-005</text></g>
<text x="1.64" y="549.40" font-family='"Liberation Sans", sans-serif' font-size="39.72" font-weight="bold" fill="#000" textLength="29.99" lengthAdjust="spacingAndGlyphs">C</text>
</svg>
</body></html>
